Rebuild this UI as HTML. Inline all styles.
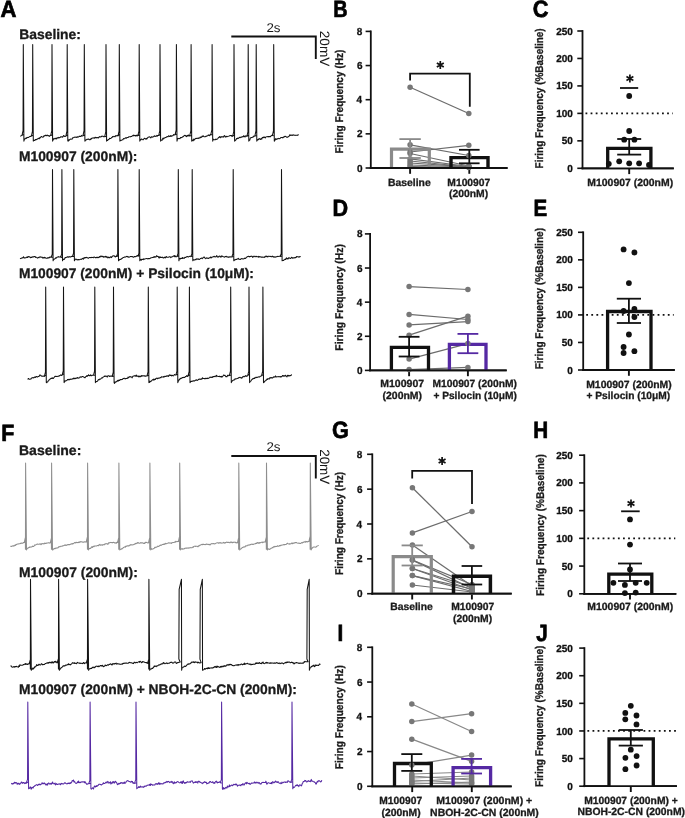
<!DOCTYPE html>
<html><head><meta charset="utf-8"><style>html,body{margin:0;padding:0;background:#fff;}svg{display:block;will-change:transform;}text{font-family:"Liberation Sans",sans-serif;}</style></head><body>
<svg width="685" height="818" viewBox="0 0 685 818" font-family="Liberation Sans, sans-serif" text-rendering="geometricPrecision">
<rect width="685" height="818" fill="#fff"/>
<text x="0.50" y="16.80" font-size="23.5" font-weight="bold" fill="#000" stroke="#000" stroke-width="0.7" textLength="15.95" lengthAdjust="spacingAndGlyphs">A</text>
<text x="333.36" y="16.90" font-size="23.5" font-weight="bold" fill="#000" stroke="#000" stroke-width="0.7" textLength="14.33" lengthAdjust="spacingAndGlyphs">B</text>
<text x="532.68" y="17.00" font-size="23.5" font-weight="bold" fill="#000" stroke="#000" stroke-width="0.7" textLength="15.77" lengthAdjust="spacingAndGlyphs">C</text>
<text x="332.44" y="216.00" font-size="23.5" font-weight="bold" fill="#000" stroke="#000" stroke-width="0.7" textLength="15.62" lengthAdjust="spacingAndGlyphs">D</text>
<text x="533.62" y="216.00" font-size="23.5" font-weight="bold" fill="#000" stroke="#000" stroke-width="0.7" textLength="13.69" lengthAdjust="spacingAndGlyphs">E</text>
<text x="1.26" y="440.50" font-size="23.5" font-weight="bold" fill="#000" stroke="#000" stroke-width="0.7" textLength="13.06" lengthAdjust="spacingAndGlyphs">F</text>
<text x="332.08" y="437.80" font-size="23.5" font-weight="bold" fill="#000" stroke="#000" stroke-width="0.7" textLength="16.82" lengthAdjust="spacingAndGlyphs">G</text>
<text x="533.21" y="437.80" font-size="23.5" font-weight="bold" fill="#000" stroke="#000" stroke-width="0.7" textLength="14.93" lengthAdjust="spacingAndGlyphs">H</text>
<text x="337.41" y="640.70" font-size="23.5" font-weight="bold" fill="#000" stroke="#000" stroke-width="0.7" textLength="5.75" lengthAdjust="spacingAndGlyphs">I</text>
<text x="536.14" y="640.50" font-size="23.5" font-weight="bold" fill="#000" stroke="#000" stroke-width="0.7" textLength="11.47" lengthAdjust="spacingAndGlyphs">J</text>
<text x="19.20" y="38.90" font-size="13.8" font-weight="bold" textLength="61.74" lengthAdjust="spacingAndGlyphs" fill="#1a1a1a" stroke="#1a1a1a" stroke-width="0.3" >Baseline:</text>
<text x="18.90" y="160.90" font-size="13.8" font-weight="bold" textLength="118.58" lengthAdjust="spacingAndGlyphs" fill="#1a1a1a" stroke="#1a1a1a" stroke-width="0.3" >M100907 (200nM):</text>
<text x="18.90" y="278.40" font-size="13.8" font-weight="bold" textLength="235.07" lengthAdjust="spacingAndGlyphs" fill="#1a1a1a" stroke="#1a1a1a" stroke-width="0.3" >M100907 (200nM) + Psilocin (10μM):</text>
<text x="18.99" y="455.10" font-size="13.8" font-weight="bold" textLength="62.36" lengthAdjust="spacingAndGlyphs" fill="#1a1a1a" stroke="#1a1a1a" stroke-width="0.3" >Baseline:</text>
<text x="19.00" y="576.80" font-size="13.8" font-weight="bold" textLength="118.88" lengthAdjust="spacingAndGlyphs" fill="#1a1a1a" stroke="#1a1a1a" stroke-width="0.3" >M100907 (200nM):</text>
<text x="19.00" y="694.40" font-size="13.8" font-weight="bold" textLength="277.96" lengthAdjust="spacingAndGlyphs" fill="#1a1a1a" stroke="#1a1a1a" stroke-width="0.3" >M100907 (200nM) + NBOH-2C-CN (200nM):</text>
<path d="M231.3,36.5 H315.8 V58.9" fill="none" stroke="#111" stroke-width="1.9"/>
<text x="266.43" y="31.70" font-size="12.6" font-weight="normal" textLength="14.15" lengthAdjust="spacingAndGlyphs" fill="#1a1a1a" >2s</text>
<g transform="translate(319.60,31.50) rotate(90)"><text x="-0.68" y="0" font-size="13.6" font-weight="normal" textLength="35.38" lengthAdjust="spacingAndGlyphs" fill="#1a1a1a">20mV</text></g>
<path d="M231.3,456 H315.8 V478.5" fill="none" stroke="#111" stroke-width="1.9"/>
<text x="266.43" y="451.30" font-size="12.6" font-weight="normal" textLength="14.15" lengthAdjust="spacingAndGlyphs" fill="#1a1a1a" >2s</text>
<g transform="translate(319.60,449.80) rotate(90)"><text x="-0.67" y="0" font-size="13.6" font-weight="normal" textLength="35.17" lengthAdjust="spacingAndGlyphs" fill="#1a1a1a">20mV</text></g>
<path d="M20.50,136.48L21.00,135.74L21.50,135.58L23.00,134.76L22.00,135.26L23.05,130.69L23.30,44.50L23.90,141.10L24.40,139.42L24.90,138.82L25.40,138.65L25.90,138.03L26.40,138.40L26.90,137.42L27.40,137.61L27.90,137.39L28.40,137.55L28.90,137.19L29.40,136.69L29.90,136.59L30.40,136.57L30.90,136.11L32.40,135.52L31.40,136.08L32.45,131.34L32.70,44.50L33.30,141.10L33.80,140.15L34.30,140.54L34.80,140.57L35.30,139.47L35.80,139.77L36.30,139.36L36.80,139.66L37.30,139.00L37.80,138.67L38.30,138.70L38.80,138.19L39.30,138.74L39.80,137.60L40.30,137.84L40.80,136.95L41.30,136.60L41.80,136.56L42.30,137.09L42.80,137.19L43.30,137.04L43.80,135.99L44.30,135.70L44.80,136.03L45.30,135.40L45.80,135.12L46.30,135.71L46.80,135.43L47.30,135.06L47.80,135.64L48.30,135.68L48.80,135.54L49.30,136.38L49.80,135.78L51.80,135.30L50.70,135.42L51.75,130.81L52.00,44.50L52.60,141.10L53.10,139.90L53.60,138.94L54.10,138.40L54.60,138.71L55.10,139.00L55.60,138.34L56.10,138.10L56.60,138.91L57.10,137.92L57.60,137.87L58.10,137.43L58.60,138.02L59.10,137.55L59.60,137.74L60.10,137.53L60.60,136.71L61.10,137.01L61.60,136.88L62.10,136.59L62.60,137.24L63.10,136.42L63.60,135.53L64.10,135.88L64.60,136.45L65.10,136.58L67.10,135.34L65.90,135.84L66.95,131.20L67.20,44.50L67.80,141.10L68.30,141.19L68.80,139.79L69.30,140.30L69.80,139.50L70.30,139.22L70.80,138.95L71.30,139.06L71.80,139.22L72.30,138.82L72.80,137.65L73.30,137.82L73.80,137.61L74.30,137.10L74.80,137.34L75.30,137.17L75.80,137.08L76.30,137.22L76.80,137.42L77.30,136.74L77.80,137.15L78.30,136.95L78.80,136.76L79.30,136.15L79.80,136.43L80.30,136.53L80.80,136.47L81.30,135.40L81.80,135.95L82.30,135.96L84.30,135.20L83.00,135.27L84.05,130.64L84.30,44.50L84.90,141.10L85.40,140.45L85.90,140.02L86.40,139.77L86.90,139.26L87.40,139.34L87.90,139.43L88.40,138.97L88.90,139.42L89.40,139.79L89.90,139.29L90.40,139.70L90.90,138.65L91.40,138.99L91.90,138.14L92.40,137.91L92.90,138.12L93.40,137.83L93.90,137.96L94.40,138.29L94.90,137.53L95.40,137.20L95.90,138.00L96.40,137.62L96.90,137.60L97.40,137.61L97.90,137.76L98.40,137.93L98.90,137.27L99.40,136.63L99.90,136.94L100.40,137.04L100.90,136.64L101.40,136.67L101.90,136.07L102.40,136.20L102.90,136.22L103.40,136.54L103.90,136.85L105.90,136.43L104.70,136.58L105.75,131.99L106.00,44.50L106.60,141.10L107.10,140.14L107.60,140.43L108.10,139.77L108.60,139.50L109.10,139.27L109.60,138.32L110.10,138.51L110.60,138.45L111.10,138.22L111.60,137.50L112.10,137.57L112.60,136.53L113.10,136.67L113.60,136.62L114.10,136.26L114.60,136.75L115.10,136.79L115.60,135.63L116.10,136.07L116.60,135.64L117.10,135.80L119.10,134.80L118.00,135.83L119.05,131.17L119.30,44.50L119.90,141.10L120.40,140.17L120.90,140.61L121.40,140.14L121.90,139.95L122.40,139.74L122.90,139.82L123.40,138.57L123.90,138.76L124.40,138.66L124.90,138.51L125.40,137.71L125.90,138.08L126.40,138.18L126.90,137.62L127.40,137.49L127.90,137.54L128.40,137.30L128.90,136.69L129.40,136.71L129.90,136.72L130.40,136.85L130.90,136.47L131.40,136.55L131.90,136.30L132.40,135.83L132.90,135.45L133.40,135.11L133.90,135.98L134.40,135.47L134.90,135.38L135.40,135.41L135.90,136.11L136.40,135.79L136.90,135.08L137.40,135.87L138.90,135.33L137.90,135.61L138.95,131.00L139.20,44.50L139.80,141.10L140.30,139.46L140.80,139.84L141.30,138.92L141.80,139.04L142.30,139.58L142.80,139.70L143.30,139.68L143.80,138.94L144.30,138.18L144.80,138.52L145.30,138.73L145.80,139.11L146.30,138.34L146.80,139.02L147.30,138.22L147.80,137.52L148.30,137.22L148.80,137.07L149.30,137.01L149.80,136.75L150.30,137.29L150.80,137.82L151.30,137.25L151.80,136.67L152.30,137.05L152.80,137.23L153.30,136.78L153.80,136.58L154.30,135.86L154.80,136.01L155.30,136.39L155.80,136.30L156.30,136.30L156.80,135.40L157.30,136.13L157.80,135.55L159.80,135.01L158.70,135.50L159.75,130.90L160.00,44.50L160.60,141.10L161.10,139.97L161.60,140.29L162.10,140.31L162.60,138.70L163.10,137.96L163.60,139.04L164.10,138.20L164.60,137.86L165.10,137.72L165.60,137.42L166.10,137.41L166.60,136.70L167.10,136.66L167.60,136.62L168.10,136.69L168.60,135.78L169.10,135.99L169.60,136.55L170.10,136.36L170.60,135.58L171.10,136.47L171.60,135.70L172.10,135.91L172.60,135.82L173.10,135.48L173.60,134.57L174.10,135.01L174.60,134.88L176.10,134.23L175.10,134.69L176.15,130.06L176.40,44.50L177.00,141.10L177.50,138.78L178.00,138.27L178.50,138.71L179.00,138.55L179.50,138.49L180.00,138.65L180.50,137.49L181.00,137.69L181.50,137.44L182.00,137.49L182.50,136.82L183.00,136.68L183.50,136.43L184.00,135.72L184.50,135.43L185.00,135.25L185.50,135.93L186.00,135.76L186.50,136.62L187.00,135.93L187.50,135.42L188.00,136.05L188.50,134.98L189.00,135.86L191.00,135.65L189.80,135.43L190.85,130.78L191.10,44.50L191.70,141.10L192.20,140.72L192.70,139.97L193.20,140.79L193.70,139.05L194.20,140.09L194.70,139.29L195.20,138.99L195.70,138.46L196.20,138.24L196.70,138.47L197.20,138.47L197.70,138.15L198.20,137.92L198.70,138.45L199.20,137.97L199.70,137.96L200.20,137.06L200.70,137.60L201.20,137.14L201.70,137.15L202.20,136.10L202.70,136.53L203.20,135.74L203.70,136.53L204.20,136.71L204.70,136.83L205.20,136.82L205.70,136.25L206.20,136.46L206.70,136.01L207.20,135.94L207.70,135.66L208.20,134.99L208.70,135.48L209.20,135.08L209.70,135.77L210.20,134.62L211.70,134.82L210.80,134.55L211.85,129.95L212.10,44.50L212.70,141.10L213.20,139.20L213.70,139.31L214.20,139.84L214.70,139.69L215.20,139.83L215.70,139.13L216.20,139.51L216.70,139.18L217.20,139.13L217.70,138.84L218.20,137.90L218.70,137.38L219.20,137.40L219.70,136.49L220.20,136.76L220.70,137.81L221.20,137.06L221.70,136.61L222.20,136.71L222.70,136.77L223.20,137.29L223.70,136.49L224.20,135.71L224.70,135.62L225.20,136.94L225.70,137.04L226.20,136.28L226.70,136.77L227.20,136.39L227.70,136.63L228.20,136.39L228.70,136.12L229.20,135.94L229.70,135.65L230.20,135.54L230.70,135.48L231.20,135.92L231.70,135.50L232.20,136.43L233.70,135.48L232.70,136.12L233.75,131.53L234.00,44.50L234.60,141.10L235.10,140.58L235.60,140.28L236.10,139.64L236.60,138.50L237.10,138.73L237.60,138.08L238.10,138.53L238.60,138.09L239.10,137.46L239.60,137.32L240.10,137.74L240.60,137.15L241.10,137.12L241.60,137.33L242.10,136.62L242.60,136.86L243.10,136.69L243.60,135.82L244.10,136.70L244.60,136.19L245.10,136.94L245.60,135.86L246.10,136.03L248.10,135.60L246.90,136.40L247.95,131.75L248.20,44.50L248.80,141.10L249.30,140.18L249.80,140.22L250.30,138.07L250.80,137.69L251.30,137.45L251.80,137.60L252.30,137.30L252.80,137.11L253.30,137.06L253.80,136.12L254.30,136.29L255.80,135.75L254.90,135.75L255.95,130.96L256.20,44.50L256.80,141.10L257.30,140.20L257.80,139.58L258.30,139.73L258.80,138.82L259.30,139.03L259.80,138.65L260.30,139.54L260.80,139.03L261.30,138.55L261.80,139.11L262.30,137.42L262.80,137.64L263.30,137.15L263.80,137.63L264.30,136.96L264.80,137.52L265.30,137.93L265.80,136.92L266.30,136.81L266.80,136.67L267.30,136.73L267.80,136.53L268.30,136.95L268.80,136.50L269.30,136.73L269.80,136.42L270.30,136.81L270.80,136.15L271.30,135.76L271.80,135.36L273.30,135.70L272.40,135.57L273.45,130.95L273.70,44.50L274.30,141.10L274.80,140.41L275.30,139.60L275.80,138.51L276.30,139.35L276.80,139.37L277.30,138.87L277.80,138.74L278.30,138.38L278.80,138.66L279.30,138.78L279.80,138.44L280.30,138.25L280.80,137.62L281.30,137.48L281.80,137.50L282.30,137.45L282.80,137.94L283.30,136.98L283.80,137.30L284.30,136.73L284.80,136.38L285.30,136.40L285.80,136.31L286.30,136.99L286.80,137.19L287.30,137.13L287.80,137.28L288.30,136.48L288.80,136.28L289.30,135.97L289.80,134.74L290.30,135.06L290.80,135.52L291.30,135.21L291.80,134.98L292.30,135.01L292.80,135.48L293.30,134.90L293.80,134.89L294.30,135.19L294.80,135.33L295.30,135.39L295.80,135.16L296.30,135.26L296.80,135.35L297.30,135.46L297.80,134.97L298.30,135.00L298.80,134.50" fill="none" stroke="#141414" stroke-width="1.05" stroke-linejoin="round"/>
<path d="M20.00,258.42L20.50,258.64L21.00,258.32L21.50,258.26L22.00,257.88L22.50,257.88L23.00,257.85L23.50,256.76L24.00,257.90L24.50,257.89L25.00,257.92L25.50,257.76L26.00,257.76L26.50,257.10L27.00,257.37L27.50,257.50L28.00,256.48L28.50,256.58L29.00,257.02L29.50,256.79L30.00,257.05L30.50,257.80L31.00,257.44L31.50,257.15L32.00,257.43L32.50,256.92L33.00,256.59L33.50,256.98L34.00,256.84L34.50,256.42L35.00,256.55L35.50,257.35L36.00,257.06L36.50,257.41L37.00,257.68L37.50,258.11L38.00,257.82L38.50,257.30L39.00,257.71L39.50,256.90L40.00,256.90L40.50,256.84L41.00,257.32L41.50,257.31L42.00,257.09L42.50,257.90L43.00,257.78L43.50,257.45L44.00,258.21L44.50,257.39L45.00,257.45L45.50,257.87L46.00,258.29L46.50,258.24L47.00,258.15L47.50,257.79L48.00,258.27L48.50,257.66L49.00,257.57L49.50,257.68L50.00,256.81L50.50,257.33L52.50,257.22L51.20,257.29L52.25,254.19L52.50,169.50L53.10,260.80L53.60,259.30L54.10,259.27L54.60,258.94L55.10,258.63L55.60,257.90L56.10,258.21L56.60,257.75L57.10,257.23L57.60,257.05L58.10,257.09L58.60,256.62L59.10,257.09L59.60,257.06L60.10,257.06L61.60,257.36L60.60,257.21L61.65,254.14L61.90,169.50L62.50,260.80L63.00,259.14L63.50,259.22L64.00,259.46L64.50,259.13L65.00,257.76L65.50,257.62L66.00,257.51L66.50,257.31L67.00,257.16L67.50,256.77L68.00,257.14L68.50,257.16L69.00,256.57L69.50,256.82L70.00,257.17L70.50,256.87L71.00,256.73L71.50,256.45L72.00,256.38L73.50,256.36L72.50,256.30L73.55,253.24L73.80,169.50L74.40,260.80L74.90,259.78L75.40,259.26L75.90,259.02L76.40,259.38L76.90,259.78L77.40,259.91L77.90,259.47L78.40,259.94L78.90,259.60L79.40,259.73L79.90,259.51L80.40,259.27L80.90,259.32L81.40,259.41L81.90,258.89L82.40,258.33L82.90,258.70L83.40,259.19L83.90,257.80L84.40,258.18L84.90,257.52L85.40,257.53L85.90,257.89L86.40,257.51L86.90,257.36L87.40,257.74L87.90,258.05L88.40,258.26L88.90,257.77L89.40,257.53L89.90,257.47L90.40,257.53L90.90,257.78L91.40,257.45L91.90,257.37L92.40,257.41L92.90,257.58L93.40,257.73L93.90,256.91L94.40,257.07L94.90,257.43L95.40,257.44L95.90,257.92L96.40,257.35L96.90,257.48L97.40,257.19L97.90,257.80L98.40,257.45L98.90,257.36L99.40,256.49L99.90,257.24L100.40,256.69L100.90,255.91L101.40,256.20L101.90,256.71L102.40,256.35L102.90,256.25L103.40,257.21L103.90,256.73L104.40,256.84L104.90,257.16L105.40,256.37L105.90,256.19L106.40,257.29L106.90,256.70L107.40,257.11L107.90,257.97L108.40,257.31L108.90,256.95L109.40,257.82L109.90,257.73L110.40,257.19L110.90,256.62L111.40,257.58L111.90,256.86L112.40,256.35L112.90,255.72L113.40,255.84L113.90,256.01L114.40,255.89L114.90,256.60L115.40,257.00L115.90,256.36L117.90,255.95L116.60,256.40L117.65,253.39L117.90,169.50L118.50,260.80L119.00,259.73L119.50,259.94L120.00,259.28L120.50,259.38L121.00,259.29L121.50,258.76L122.00,258.34L122.50,258.29L123.00,257.56L123.50,257.54L124.00,257.45L124.50,256.92L125.00,256.92L125.50,257.10L126.00,256.81L126.50,256.42L127.00,256.34L127.50,256.87L128.00,256.59L128.50,257.17L129.00,257.24L129.50,256.89L130.00,256.77L130.50,256.57L131.00,256.44L131.50,256.49L132.00,256.63L132.50,256.61L133.00,256.97L133.50,257.33L134.00,256.89L134.50,256.54L135.00,256.46L135.50,256.68L136.00,256.59L136.50,256.31L137.00,255.61L139.00,255.75L137.90,256.24L138.95,253.21L139.20,169.50L139.80,260.80L140.30,259.83L140.80,259.36L141.30,260.23L141.80,259.36L142.30,259.44L142.80,259.41L143.30,258.88L143.80,259.66L144.30,259.01L144.80,258.93L145.30,258.83L145.80,258.68L146.30,258.60L146.80,258.44L147.30,258.86L147.80,258.71L148.30,258.45L148.80,258.64L149.30,258.64L149.80,258.49L150.30,258.34L150.80,257.70L151.30,257.83L151.80,257.68L152.30,257.52L152.80,257.57L153.30,257.08L153.80,257.35L154.30,256.64L154.80,257.14L155.30,256.86L155.80,257.14L156.30,256.26L156.80,255.67L157.30,256.53L157.80,256.48L158.30,256.41L158.80,257.75L159.30,258.03L159.80,256.65L160.30,257.45L160.80,257.23L161.30,257.54L161.80,257.49L162.30,257.09L162.80,257.42L163.30,258.07L163.80,258.02L164.30,257.34L164.80,257.19L165.30,257.87L165.80,257.01L166.30,256.47L166.80,257.36L167.30,257.22L167.80,257.29L168.30,257.31L168.80,257.13L169.30,256.71L169.80,256.69L170.30,256.98L170.80,257.66L171.30,256.95L171.80,257.00L172.30,256.66L172.80,256.46L173.30,256.03L173.80,256.22L174.30,255.51L174.80,256.83L175.30,255.92L175.80,256.73L176.30,256.85L178.30,256.11L177.00,256.32L178.05,253.30L178.30,169.50L178.90,260.80L179.40,258.75L179.90,258.41L180.40,259.04L180.90,258.36L181.40,258.43L181.90,258.39L182.40,257.56L182.90,258.55L183.40,258.19L183.90,257.85L184.40,258.23L184.90,257.27L185.40,257.41L185.90,257.36L186.40,256.75L186.90,256.77L187.40,256.56L187.90,256.77L188.40,256.95L188.90,256.59L189.40,256.46L189.90,256.17L191.90,256.26L190.90,256.60L191.95,253.55L192.20,169.50L192.80,260.80L193.30,260.03L193.80,259.68L194.30,259.96L194.80,259.95L195.30,259.23L195.80,259.75L196.30,259.27L196.80,258.73L197.30,258.94L197.80,259.20L198.30,258.83L198.80,259.46L199.30,259.50L199.80,259.18L200.30,258.54L200.80,258.51L201.30,258.30L201.80,258.08L202.30,258.60L202.80,258.21L203.30,257.25L203.80,257.15L204.30,257.04L204.80,257.93L205.30,258.13L205.80,258.65L206.30,258.08L206.80,257.75L207.30,258.15L207.80,258.34L208.30,258.55L208.80,258.04L209.30,257.94L209.80,257.63L210.30,257.74L210.80,256.90L211.30,257.89L211.80,257.32L212.30,257.00L212.80,257.08L213.30,256.74L213.80,256.50L214.30,256.32L214.80,256.85L215.30,256.69L215.80,257.03L216.30,256.40L216.80,255.65L217.30,256.76L217.80,257.13L218.30,256.82L218.80,256.99L219.30,256.13L219.80,256.20L220.30,256.26L220.80,257.13L221.30,256.90L221.80,255.76L222.30,256.27L222.80,256.55L223.30,256.75L223.80,256.77L224.30,257.12L224.80,257.01L225.30,256.57L225.80,256.51L226.30,256.31L226.80,256.92L227.30,257.13L227.80,256.81L228.30,256.94L228.80,257.40L229.30,256.88L229.80,256.98L230.30,256.82L230.80,257.00L231.30,257.04L232.80,256.71L231.90,256.72L232.95,253.71L233.20,169.50L233.80,260.80L234.30,260.24L234.80,259.81L235.30,259.64L235.80,259.69L236.30,259.25L236.80,259.43L237.30,259.09L237.80,258.76L238.30,258.29L238.80,259.17L239.30,259.17L239.80,259.37L240.30,259.47L240.80,259.06L241.30,258.84L241.80,258.57L242.30,258.96L242.80,258.75L243.30,258.66L243.80,258.92L244.30,258.61L244.80,258.00L245.30,258.56L245.80,258.14L246.30,257.47L246.80,257.02L247.30,256.78L247.80,256.52L248.30,256.38L248.80,256.20L249.30,256.85L249.80,256.47L250.30,256.39L250.80,256.60L251.30,256.14L251.80,256.28L252.30,256.49L252.80,257.38L253.30,256.70L253.80,256.22L254.30,256.22L254.80,256.69L255.30,256.84L255.80,256.24L256.30,256.32L256.80,256.73L257.30,256.66L257.80,256.82L258.30,256.32L258.80,257.34L259.30,256.93L259.80,256.47L260.30,256.78L260.80,256.98L261.30,257.29L261.80,257.05L262.30,257.22L262.80,257.03L263.30,257.33L263.80,257.20L264.30,256.97L264.80,257.35L265.30,256.27L265.80,256.35L266.30,256.03L266.80,256.71L267.30,256.41L267.80,257.00L268.30,256.30L268.80,256.26L269.30,256.36L269.80,256.47L270.30,256.44L270.80,256.36L271.30,256.82L271.80,256.65L272.30,256.17L272.80,256.77L273.30,256.60L273.80,257.23L274.30,257.13L274.80,256.82L275.30,257.07L275.80,257.17L276.30,256.67L276.80,256.74L277.30,256.38L277.80,256.41L278.30,256.46L278.80,256.33L279.30,256.15L281.30,256.30L280.20,256.53L281.25,253.52L281.50,169.50L282.10,260.80L282.60,260.58L283.10,260.49L283.60,260.41L284.10,259.70L284.60,259.69L285.10,259.23L285.60,259.57L286.10,258.27L286.60,257.76L287.10,258.94L287.60,258.43L288.10,258.89L288.60,257.80L289.10,258.26L289.60,257.83L290.10,258.15L290.60,258.51L291.10,258.05L291.60,257.27L292.10,257.43L292.60,258.26L293.10,258.08L293.60,257.73L294.10,258.03L294.60,257.79L295.10,257.35L295.60,257.81L296.10,257.58L296.60,256.56L297.10,256.64L297.60,256.82L298.10,256.75L298.60,256.94L299.10,257.18L299.60,256.75L300.10,256.45L300.60,256.80" fill="none" stroke="#141414" stroke-width="1.05" stroke-linejoin="round"/>
<path d="M27.50,379.20L28.00,378.86L28.50,378.45L29.00,379.16L29.50,379.26L30.00,379.31L30.50,379.10L31.00,378.98L31.50,378.10L32.00,377.92L32.50,377.82L33.00,377.50L33.50,377.90L34.00,377.73L34.50,377.15L35.00,376.87L35.50,377.39L36.00,376.68L36.50,376.52L37.00,376.94L37.50,376.99L38.00,376.62L38.50,376.45L39.00,376.54L39.50,375.36L40.00,374.87L40.50,375.40L41.00,375.84L41.50,375.82L42.00,376.35L42.50,376.14L43.00,376.01L43.50,376.24L45.50,375.41L44.40,376.38L45.45,372.14L45.70,287.00L46.30,382.60L46.80,382.77L47.30,381.87L47.80,381.66L48.30,380.74L48.80,380.28L49.30,379.67L49.80,379.61L50.30,378.73L50.80,378.65L51.30,378.25L51.80,378.51L52.30,377.80L52.80,378.45L53.30,378.46L53.80,377.62L54.30,377.34L54.80,376.55L55.30,376.26L55.80,376.55L56.30,376.37L56.80,376.41L57.30,376.40L57.80,376.27L58.30,376.06L58.80,376.26L59.30,375.94L59.80,375.45L60.30,375.27L60.80,374.89L61.30,375.45L63.30,374.15L62.20,375.00L63.25,370.84L63.50,287.00L64.10,382.60L64.60,381.71L65.10,380.88L65.60,380.94L66.10,380.67L66.60,380.50L67.10,380.09L67.60,379.44L68.10,379.74L68.60,379.37L69.10,379.91L69.60,379.34L70.10,379.49L70.60,379.03L71.10,379.14L71.60,379.30L72.10,378.83L72.60,379.07L73.10,378.55L73.60,378.13L74.10,378.83L74.60,378.19L75.10,378.25L75.60,378.68L76.10,378.13L76.60,378.27L77.10,377.77L77.60,377.59L78.10,378.25L78.60,378.00L79.10,377.96L79.60,377.59L80.10,376.92L80.60,376.85L81.10,377.25L81.60,377.02L82.10,376.49L82.60,376.51L83.10,376.63L83.60,377.00L84.10,377.15L84.60,377.65L85.10,377.66L85.60,376.68L86.10,376.59L86.60,375.78L87.10,376.51L87.60,375.47L88.10,375.50L88.60,374.76L89.10,375.71L89.60,375.49L90.10,375.68L90.60,374.85L91.10,375.59L91.60,375.81L92.10,375.30L92.60,375.15L94.60,375.25L93.50,375.28L94.55,371.20L94.80,287.00L95.40,382.60L95.90,381.51L96.40,381.53L96.90,381.65L97.40,381.16L97.90,380.63L98.40,379.59L98.90,379.81L99.40,379.82L99.90,378.90L100.40,379.17L100.90,378.82L101.40,378.08L101.90,377.88L102.40,377.93L102.90,377.22L103.40,376.96L103.90,376.57L104.40,375.98L104.90,376.54L105.40,376.14L105.90,376.05L106.40,376.22L106.90,376.74L107.40,377.05L107.90,375.66L108.40,375.78L108.90,375.68L109.40,376.50L109.90,376.27L110.40,376.03L110.90,376.15L111.40,375.92L113.40,376.30L112.20,376.38L113.25,372.23L113.50,287.00L114.10,382.60L114.60,383.36L115.10,381.80L115.60,382.22L116.10,381.93L116.60,381.36L117.10,381.25L117.60,380.41L118.10,381.19L118.60,380.11L119.10,380.37L119.60,380.43L120.10,379.57L120.60,379.75L121.10,379.49L121.60,379.61L122.10,379.53L122.60,379.21L123.10,378.56L123.60,378.42L124.10,378.28L124.60,378.23L125.10,378.93L125.60,378.62L126.10,378.36L126.60,378.40L127.10,378.56L127.60,378.17L128.10,376.92L128.60,377.88L129.10,377.22L129.60,376.64L130.10,376.89L130.60,376.61L131.10,377.00L131.60,377.01L132.10,377.84L132.60,376.71L133.10,376.23L133.60,376.00L134.10,375.98L134.60,375.94L135.10,375.37L135.60,376.00L136.10,376.52L136.60,375.06L137.10,375.75L137.60,376.24L138.10,376.62L138.60,376.02L139.10,376.99L139.60,376.46L140.10,375.96L140.60,376.78L141.10,376.53L141.60,375.56L142.10,376.01L142.60,375.75L143.10,376.08L143.60,375.84L144.10,375.65L144.60,376.01L145.10,376.39L145.60,375.89L146.10,375.99L148.10,375.40L147.00,375.98L148.05,371.90L148.30,287.00L148.90,382.60L149.40,382.53L149.90,381.06L150.40,381.73L150.90,381.31L151.40,380.96L151.90,380.50L152.40,379.78L152.90,379.81L153.40,379.17L153.90,380.23L154.40,379.30L154.90,379.36L155.40,379.46L155.90,378.41L156.40,378.11L156.90,378.43L157.40,378.81L157.90,378.11L158.40,378.05L158.90,378.47L159.40,378.04L159.90,377.76L160.40,377.43L160.90,377.74L161.40,376.80L161.90,377.08L162.40,376.99L162.90,377.02L163.40,376.50L163.90,377.16L164.40,376.75L164.90,376.23L165.40,376.40L165.90,376.43L166.40,375.87L166.90,376.26L167.40,375.99L167.90,375.65L168.40,376.37L168.90,375.88L169.40,374.85L169.90,375.19L170.40,375.42L170.90,375.03L171.40,375.86L171.90,375.33L172.40,375.25L172.90,375.79L173.40,375.85L173.90,375.25L174.40,374.52L174.90,374.92L176.90,374.63L175.90,375.12L176.95,371.03L177.20,287.00L177.80,382.60L178.30,381.14L178.80,380.67L179.30,379.28L179.80,379.41L180.30,378.39L180.80,378.21L181.30,378.41L181.80,377.98L182.30,377.51L182.80,377.77L183.30,377.35L183.80,377.50L184.30,377.41L184.80,377.50L185.30,376.44L185.80,376.40L186.30,376.25L186.80,375.52L187.30,376.54L189.30,375.12L188.10,375.67L189.15,371.43L189.40,287.00L190.00,382.60L190.50,382.00L191.00,381.30L191.50,381.51L192.00,381.22L192.50,381.09L193.00,381.14L193.50,380.79L194.00,380.73L194.50,381.04L195.00,380.65L195.50,380.28L196.00,379.95L196.50,379.87L197.00,380.48L197.50,380.30L198.00,379.84L198.50,379.28L199.00,379.50L199.50,379.04L200.00,378.91L200.50,379.23L201.00,379.41L201.50,378.79L202.00,379.05L202.50,377.78L203.00,378.39L203.50,378.47L204.00,378.45L204.50,378.81L205.00,378.53L205.50,378.73L206.00,378.14L206.50,378.58L207.00,378.65L207.50,378.16L208.00,378.45L208.50,378.17L209.00,377.99L209.50,377.58L210.00,377.02L210.50,377.25L211.00,377.55L211.50,377.46L212.00,376.96L212.50,377.34L213.00,376.59L213.50,376.55L214.00,376.63L214.50,376.50L215.00,376.17L215.50,375.94L216.00,376.72L216.50,375.31L217.00,375.84L217.50,376.15L218.00,376.49L218.50,376.59L219.00,376.46L219.50,376.22L220.00,376.78L220.50,376.54L221.00,376.91L221.50,376.36L222.00,377.13L222.50,376.68L223.00,376.01L223.50,375.02L224.00,375.16L224.50,375.43L225.00,375.29L225.50,376.27L226.00,376.81L226.50,376.51L227.00,376.81L227.50,375.50L228.00,375.14L228.50,375.78L230.50,375.24L229.40,375.26L230.45,371.19L230.70,287.00L231.30,382.60L231.80,381.18L232.30,381.04L232.80,380.46L233.30,380.12L233.80,380.05L234.30,380.01L234.80,379.21L235.30,378.70L235.80,379.14L236.30,378.89L236.80,378.58L237.30,378.51L237.80,378.32L238.30,378.20L238.80,377.52L239.30,377.38L239.80,377.65L240.30,377.80L240.80,377.36L241.30,378.01L241.80,378.18L242.30,377.40L242.80,376.74L243.30,376.32L243.80,376.82L244.30,376.77L244.80,376.43L245.30,375.67L245.80,376.16L246.30,375.85L246.80,376.38L248.80,374.58L247.70,375.52L248.75,371.37L249.00,287.00L249.60,382.60L250.10,381.70L250.60,381.22L251.10,380.79L251.60,379.64L252.10,379.46L252.60,379.00L253.10,378.46L253.60,378.66L254.10,378.15L254.60,378.43L255.10,377.66L255.60,377.71L256.10,377.10L256.60,377.61L257.10,377.43L257.60,377.21L258.10,376.78L258.60,376.93L259.10,376.92L259.60,377.07L260.10,376.24L260.60,376.33L262.60,375.12L261.60,375.64L262.65,371.44L262.90,287.00L263.50,382.60L264.00,381.88L264.50,381.96L265.00,380.96L265.50,380.60L266.00,380.14L266.50,380.12L267.00,379.02L267.50,379.49L268.00,378.59L268.50,378.84L269.00,378.97L269.50,378.94L270.00,377.44L270.50,377.87L271.00,378.01L271.50,377.52L272.00,377.89L272.50,378.04L273.00,377.47L273.50,376.85L274.00,377.28L274.50,376.77L275.00,376.72L275.50,375.91L276.00,377.16L276.50,376.85L277.00,376.67L277.50,376.72L278.00,376.83L278.50,376.77L279.00,376.47L279.50,376.63L280.00,376.85L280.50,376.57L281.00,377.15L281.50,376.49L282.00,376.41L282.50,375.63L283.00,375.53L283.50,375.80L284.00,376.37L284.50,375.88L285.00,375.50L285.50,375.33L286.00,376.15L286.50,376.25L287.00,376.87L287.50,375.28L288.00,375.70L288.50,375.34L289.00,376.14L289.50,375.49L290.00,375.69L290.50,375.62L291.00,375.32L291.50,374.89L292.00,374.96" fill="none" stroke="#141414" stroke-width="1.05" stroke-linejoin="round"/>
<path d="M10.40,546.51L10.90,546.30L11.40,546.37L11.90,546.24L12.40,546.07L12.90,545.80L13.40,545.81L13.90,546.15L14.40,545.28L14.90,545.32L15.40,545.43L15.90,544.47L16.40,544.74L16.90,544.18L17.40,544.12L17.90,543.94L18.40,544.03L18.90,543.81L19.40,543.80L19.90,543.78L20.40,543.61L20.90,543.12L21.40,543.38L21.90,543.02L22.40,543.29L22.90,543.21L23.40,542.59L25.40,542.09L24.30,542.43L25.35,537.61L25.45,549.20L25.60,463.00L26.50,549.90L27.00,548.81L27.50,548.20L28.00,548.16L28.50,547.80L29.00,547.37L29.50,547.42L30.00,546.85L30.50,547.14L31.00,547.04L31.50,546.99L32.00,546.69L32.50,546.07L33.00,546.54L33.50,546.49L34.00,546.09L34.50,545.01L35.00,545.24L35.50,544.88L36.00,544.71L36.50,544.27L37.00,544.34L37.50,544.04L38.00,544.21L38.50,544.20L39.00,544.18L39.50,544.13L40.00,543.76L40.50,544.04L41.00,544.59L41.50,544.03L42.00,543.47L42.50,543.75L43.00,543.82L43.50,543.68L44.00,543.90L44.50,543.15L45.00,543.39L45.50,543.33L46.00,543.51L46.50,543.01L47.00,542.92L47.50,543.07L48.00,542.95L48.50,542.66L49.00,542.73L49.50,543.12L51.50,542.44L50.30,542.87L51.35,538.25L51.45,549.20L51.60,463.00L52.50,549.90L53.00,549.77L53.50,548.97L54.00,548.82L54.50,548.32L55.00,548.81L55.50,548.14L56.00,548.36L56.50,548.07L57.00,547.87L57.50,547.91L58.00,547.84L58.50,547.09L59.00,546.55L59.50,546.87L60.00,546.66L60.50,546.48L61.00,546.13L61.50,546.28L62.00,546.25L62.50,545.86L63.00,545.88L63.50,545.69L64.00,545.55L64.50,545.03L65.00,545.02L65.50,545.39L66.00,544.83L66.50,545.37L67.00,545.08L67.50,544.71L68.00,544.47L68.50,544.80L69.00,544.48L69.50,544.78L70.00,544.41L70.50,544.20L71.00,543.85L71.50,543.83L72.00,544.10L72.50,543.47L73.00,543.87L73.50,543.57L74.00,543.19L74.50,542.58L75.00,542.71L75.50,542.92L76.00,542.37L76.50,542.34L77.00,542.83L77.50,542.51L78.00,542.54L78.50,542.15L79.00,542.71L79.50,541.92L80.00,542.19L80.50,541.63L81.00,541.92L81.50,541.75L82.00,541.84L82.50,542.14L83.00,541.99L83.50,542.14L84.00,541.95L84.50,541.89L85.00,541.85L85.50,542.03L87.50,541.72L86.30,541.65L87.35,537.07L87.45,549.20L87.60,463.00L88.50,549.90L89.00,548.64L89.50,548.68L90.00,548.28L90.50,548.47L91.00,547.88L91.50,547.11L92.00,546.65L92.50,547.53L93.00,546.63L93.50,546.22L94.00,546.73L94.50,546.08L95.00,545.90L95.50,546.09L96.00,545.96L96.50,546.03L97.00,545.82L97.50,545.44L98.00,545.45L98.50,545.65L99.00,544.84L99.50,545.07L100.00,544.41L100.50,545.21L101.00,545.23L101.50,544.77L102.00,544.93L102.50,545.24L103.00,544.58L103.50,544.82L104.00,544.84L104.50,544.68L105.00,543.79L105.50,544.01L106.00,543.75L106.50,543.72L107.00,543.62L107.50,544.28L108.00,544.16L108.50,543.08L109.00,542.55L109.50,542.94L110.00,542.65L110.50,542.40L111.00,542.52L111.50,542.42L112.00,542.75L112.50,542.61L113.00,542.61L113.50,542.32L114.00,542.40L114.50,542.72L115.00,543.13L115.50,543.04L116.00,542.64L116.50,543.10L117.00,542.36L118.50,542.67L117.60,542.37L118.65,537.77L118.75,549.20L118.90,463.00L119.80,549.90L120.30,549.49L120.80,549.32L121.30,549.17L121.80,548.43L122.30,548.80L122.80,548.32L123.30,547.43L123.80,547.47L124.30,547.03L124.80,546.89L125.30,547.21L125.80,546.29L126.30,546.09L126.80,546.36L127.30,545.93L127.80,545.65L128.30,545.85L128.80,546.15L129.30,545.49L129.80,545.10L130.30,545.17L130.80,544.57L131.30,544.77L131.80,545.07L132.30,544.92L132.80,544.65L133.30,544.65L133.80,544.44L134.30,544.25L134.80,544.19L135.30,543.34L135.80,543.83L136.30,543.48L136.80,543.29L137.30,542.55L137.80,543.24L138.30,542.66L138.80,542.91L139.30,543.34L139.80,543.27L140.30,543.00L140.80,542.52L141.30,542.94L141.80,542.88L142.30,542.78L142.80,543.05L143.30,543.04L143.80,543.54L144.30,543.15L144.80,543.52L145.30,542.22L145.80,542.42L146.30,542.43L146.80,542.29L147.30,542.68L147.80,543.00L149.80,542.52L148.60,542.35L149.65,537.76L149.75,549.20L149.90,463.00L150.80,549.90L151.30,548.46L151.80,549.18L152.30,549.13L152.80,548.91L153.30,548.68L153.80,548.42L154.30,548.31L154.80,547.19L155.30,547.22L155.80,547.66L156.30,547.07L156.80,546.95L157.30,546.75L157.80,546.08L158.30,546.42L158.80,546.44L159.30,545.66L159.80,545.62L160.30,545.07L160.80,545.37L161.30,545.35L161.80,544.83L162.30,544.47L162.80,544.56L163.30,544.30L163.80,544.42L164.30,543.93L164.80,544.36L165.30,543.29L165.80,543.69L166.30,543.84L166.80,543.44L167.30,543.33L167.80,543.19L168.30,543.07L168.80,542.72L169.30,542.99L169.80,543.11L170.30,542.84L170.80,543.13L171.30,543.47L171.80,542.65L172.30,542.70L172.80,542.49L173.30,542.42L173.80,542.58L174.30,542.28L174.80,542.01L175.30,542.20L175.80,541.28L176.30,541.61L176.80,541.84L177.30,541.40L177.80,541.50L179.30,541.47L178.40,541.54L179.45,536.94L179.55,549.20L179.70,463.00L180.60,549.90L181.10,548.82L181.60,549.03L182.10,548.55L182.60,549.24L183.10,548.92L183.60,549.01L184.10,548.54L184.60,548.61L185.10,548.02L185.60,548.19L186.10,548.12L186.60,548.01L187.10,548.14L187.60,548.03L188.10,547.74L188.60,548.18L189.10,548.15L189.60,547.85L190.10,547.54L190.60,547.66L191.10,547.71L191.60,547.70L192.10,547.62L192.60,547.10L193.10,547.37L193.60,546.55L194.10,546.37L194.60,546.18L195.10,546.11L195.60,546.50L196.10,546.24L196.60,546.20L197.10,546.26L197.60,546.63L198.10,546.70L198.60,545.89L199.10,545.94L199.60,545.35L200.10,545.31L200.60,545.08L201.10,544.85L201.60,544.46L202.10,544.38L202.60,544.69L203.10,544.11L203.60,544.51L204.10,544.58L204.60,544.52L205.10,544.64L205.60,544.52L206.10,544.03L206.60,544.13L207.10,544.56L207.60,544.29L208.10,544.21L208.60,544.60L209.10,544.77L209.60,544.39L210.10,544.93L210.60,544.21L211.10,543.84L211.60,543.76L212.10,543.57L212.60,543.67L213.10,543.84L213.60,543.46L214.10,543.84L214.60,543.87L215.10,543.73L215.60,543.37L216.10,543.12L216.60,542.93L217.10,542.83L217.60,542.82L218.10,542.97L218.60,543.29L219.10,542.68L219.60,543.04L220.10,542.49L220.60,542.82L221.10,543.25L221.60,542.92L222.10,543.09L222.60,543.10L223.10,542.90L223.60,542.32L224.10,542.82L224.60,543.13L225.10,542.48L225.60,542.83L226.10,542.28L226.60,542.31L227.10,542.03L227.60,542.53L228.10,542.59L228.60,542.28L229.10,542.30L229.60,542.73L230.10,542.83L230.60,542.01L231.10,542.44L231.60,542.00L232.10,542.65L232.60,542.75L233.10,542.07L233.60,542.45L234.10,542.32L234.60,542.18L235.10,542.03L235.60,542.69L236.10,542.48L236.60,542.98L238.60,542.50L237.50,542.68L238.55,538.13L238.65,549.20L238.80,463.00L239.70,549.90L240.20,549.16L240.70,548.91L241.20,548.75L241.70,548.20L242.20,547.59L242.70,547.43L243.20,547.09L243.70,547.12L244.20,546.79L244.70,546.98L245.20,546.78L245.70,545.87L246.20,545.95L246.70,545.72L247.20,545.74L247.70,545.45L248.20,544.87L248.70,545.16L249.20,545.20L249.70,544.80L250.20,544.55L250.70,544.63L251.20,544.27L251.70,544.22L252.20,544.05L252.70,544.50L253.20,544.57L253.70,544.14L254.20,544.10L254.70,543.85L255.20,543.52L255.70,543.76L256.20,543.02L256.70,543.52L257.20,542.89L257.70,542.52L258.20,543.19L258.70,543.11L259.20,542.43L259.70,543.22L260.20,542.60L260.70,542.62L261.20,542.40L261.70,542.14L262.20,541.98L262.70,542.80L263.20,542.10L263.70,542.15L264.20,542.07L266.20,542.07L265.20,541.95L266.25,537.34L266.35,549.20L266.50,463.00L267.40,549.90L267.90,549.02L268.40,548.79L268.90,549.20L269.40,549.53L269.90,548.94L270.40,549.07L270.90,548.28L271.40,548.22L271.90,547.96L272.40,547.49L272.90,547.76L273.40,546.72L273.90,546.81L274.40,547.04L274.90,546.31L275.40,546.63L275.90,546.51L276.40,546.48L276.90,546.39L277.40,545.68L277.90,546.18L278.40,546.16L278.90,546.11L279.40,545.51L279.90,545.92L280.40,545.33L280.90,545.61L281.40,545.21L281.90,545.08L282.40,545.08L282.90,545.05L283.40,544.84L283.90,544.44L284.40,544.84L284.90,544.44L285.40,544.60L285.90,544.43L286.40,544.17L286.90,543.57L287.40,543.21L287.90,543.71L288.40,543.87L288.90,544.11L289.40,544.26L289.90,543.53L290.40,543.97L290.90,543.74L291.40,543.48L291.90,542.94L292.40,543.73L292.90,543.03L293.40,543.07L293.90,543.41L294.40,542.94L294.90,542.63L295.40,542.59L295.90,542.75L296.40,542.48L296.90,542.87L297.40,543.11L297.90,543.22L298.40,543.32L298.90,543.02L299.40,543.26L299.90,543.58L300.40,543.56L300.90,543.27L301.40,542.75L301.90,542.63L302.40,543.04L302.90,542.39L303.40,542.42L303.90,541.92L304.40,541.77L304.90,541.80L305.40,542.30L305.90,541.36L306.40,541.84L306.90,541.52L307.40,541.90L307.90,541.70L308.40,541.52L309.90,540.99L309.00,541.24L310.05,536.68L310.15,549.20L310.30,463.00L311.20,549.90L311.70,548.57L312.20,548.24L312.70,547.53L313.20,547.24L313.70,547.10L314.20,546.96L314.70,547.08L315.20,547.02L315.70,547.15L316.20,546.94L316.70,546.34L317.20,546.13L317.70,545.85L318.20,545.42L318.70,545.55" fill="none" stroke="#8e8e8e" stroke-width="1.05" stroke-linejoin="round"/>
<path d="M10.40,666.02L10.90,665.93L11.40,665.91L11.90,666.98L12.40,667.11L12.90,667.19L13.40,667.01L13.90,666.46L14.40,666.80L14.90,667.31L15.40,666.50L15.90,666.46L16.40,666.26L16.90,666.81L17.40,666.83L17.90,666.90L18.40,667.23L18.90,665.72L19.40,666.55L19.90,664.68L20.40,665.31L20.90,665.33L21.40,665.20L21.90,665.23L22.40,665.15L22.90,665.02L23.40,664.45L23.90,664.76L24.40,664.16L24.90,664.16L25.40,663.43L25.90,664.41L26.40,664.16L26.90,663.77L27.40,664.56L27.90,664.28L28.40,663.86L30.40,663.50L29.20,663.60L30.25,659.80L30.35,669.00L30.50,579.30L31.30,670.20L31.80,668.85L32.30,669.20L32.80,668.04L33.30,669.00L33.80,668.68L34.30,667.12L34.80,667.43L35.30,666.28L35.80,666.24L36.30,666.10L36.80,664.51L37.30,665.44L37.80,665.53L38.30,665.31L38.80,664.28L39.30,664.32L39.80,665.02L40.30,665.03L40.80,664.71L41.30,663.84L41.80,663.68L42.30,664.42L42.80,664.88L43.30,664.47L43.80,664.56L44.30,664.59L44.80,663.97L45.30,663.60L45.80,663.46L46.30,663.33L46.80,663.04L47.30,662.86L47.80,663.19L48.30,662.56L48.80,663.18L49.30,662.40L49.80,662.16L50.30,662.69L50.80,662.69L51.30,662.01L51.80,663.01L52.30,661.84L52.80,662.62L53.30,663.04L53.80,662.21L54.30,661.44L54.80,662.11L55.30,661.29L55.80,662.12L56.30,661.76L56.80,662.75L58.30,662.37L57.30,662.44L58.35,658.91L58.45,669.00L58.60,579.30L59.40,670.20L59.90,669.51L60.40,668.78L60.90,667.88L61.40,667.75L61.90,667.28L62.40,666.92L62.90,666.21L63.40,665.71L63.90,666.13L64.40,665.69L64.90,665.96L65.40,665.26L65.90,665.05L66.40,665.11L66.90,665.04L67.40,664.86L67.90,664.47L68.40,663.79L68.90,664.72L69.40,664.32L69.90,664.47L70.40,664.85L70.90,664.32L71.40,663.95L71.90,663.61L72.40,662.64L72.90,662.90L73.40,662.95L73.90,663.34L74.40,662.69L74.90,663.44L75.40,663.16L75.90,663.28L76.40,663.75L76.90,663.17L77.40,662.34L77.90,662.82L78.40,662.91L78.90,662.91L79.40,663.36L79.90,663.06L80.40,663.39L80.90,663.21L81.40,663.29L81.90,663.46L82.40,663.60L82.90,663.04L83.40,662.44L83.90,663.28L84.40,663.71L84.90,662.75L85.40,663.04L87.40,662.96L86.30,663.01L87.35,659.47L87.45,669.00L87.60,579.30L88.60,670.20L89.10,669.22L89.60,668.66L90.10,668.67L90.60,668.42L91.10,668.21L91.60,668.40L92.10,667.75L92.60,667.21L93.10,667.80L93.60,667.21L94.10,667.03L94.60,667.73L95.10,667.34L95.60,666.55L96.10,666.33L96.60,666.26L97.10,666.04L97.60,666.57L98.10,666.75L98.60,666.01L99.10,666.62L99.60,666.08L100.10,665.77L100.60,665.44L101.10,665.98L101.60,665.53L102.10,666.19L102.60,665.24L103.10,666.09L103.60,666.69L104.10,666.38L104.60,666.11L105.10,665.02L105.60,665.26L106.10,665.76L106.60,665.59L107.10,665.08L107.60,664.77L108.10,665.16L108.60,665.00L109.10,664.20L109.60,664.39L110.10,664.34L110.60,663.74L111.10,664.12L111.60,664.76L112.10,665.07L112.60,663.94L113.10,663.45L113.60,663.99L114.10,664.13L114.60,663.49L115.10,663.86L115.60,663.39L116.10,663.07L116.60,664.11L117.10,664.03L117.60,663.58L118.10,663.66L118.60,664.08L119.10,664.10L119.60,664.11L120.10,664.20L120.60,664.33L121.10,664.36L121.60,664.14L122.10,663.72L122.60,664.09L123.10,663.33L123.60,663.44L124.10,663.12L124.60,663.23L125.10,663.37L125.60,663.03L126.10,662.89L126.60,663.27L127.10,663.29L127.60,663.20L128.10,663.33L128.60,662.80L129.10,662.30L129.60,662.49L130.10,662.78L130.60,662.69L131.10,662.55L131.60,662.93L132.10,663.05L132.60,663.20L133.10,663.61L133.60,663.42L134.10,662.30L134.60,662.18L135.10,662.78L135.60,662.85L136.10,662.27L136.60,662.58L137.10,662.68L137.60,662.43L138.10,662.12L138.60,661.88L139.10,661.45L139.60,662.35L140.10,661.30L140.60,661.62L141.10,662.02L141.60,662.78L142.10,662.56L142.60,661.44L143.10,661.57L143.60,661.93L144.10,662.04L144.60,662.34L145.10,662.51L145.60,662.41L146.10,662.68L146.60,662.45L147.10,663.30L148.60,663.45L147.60,663.14L148.65,659.63L148.75,669.00L148.90,579.30L149.70,670.20L150.20,669.35L150.70,669.09L151.20,669.07L151.70,668.56L152.20,668.27L152.70,668.40L153.20,667.58L153.70,667.22L154.20,665.93L154.70,666.56L155.20,665.96L155.70,666.30L156.20,666.59L156.70,665.90L157.20,666.03L157.70,665.81L158.20,665.29L158.70,665.07L159.20,664.70L159.70,664.97L160.20,664.60L160.70,664.30L161.20,663.73L161.70,664.10L162.20,663.86L162.70,663.84L163.20,662.61L163.70,662.74L164.20,663.72L164.70,663.20L165.20,663.35L165.70,663.68L166.20,663.30L166.70,662.82L167.20,663.28L167.70,663.61L168.20,663.19L168.70,663.31L169.20,663.24L169.70,663.09L170.20,662.27L170.70,662.45L171.20,662.41L171.70,662.10L172.20,662.73L172.70,663.25L173.20,663.10L173.70,663.01L174.20,662.20L174.70,661.96L175.20,662.02L175.70,662.01L176.20,663.34L176.70,663.42L177.20,662.68L177.70,662.57L178.20,662.61L180.20,662.02L178.85,659.05L179.15,589.30L181.45,579.30L181.65,670.20L182.15,667.42L182.65,667.32L183.15,667.27L183.65,666.81L184.15,666.70L184.65,666.11L185.15,666.26L185.65,666.51L186.15,665.89L186.65,665.46L187.15,664.60L187.65,664.15L188.15,664.36L188.65,663.78L189.15,664.12L189.65,663.79L190.15,663.80L190.65,663.10L191.15,662.90L191.65,662.14L192.15,662.23L192.65,662.08L193.15,662.38L193.65,661.73L194.15,662.28L194.65,662.63L195.15,661.86L195.65,661.90L196.15,662.33L196.65,662.33L197.15,662.02L197.65,662.89L198.15,662.22L198.65,662.27L199.15,663.08L201.15,662.63L199.95,659.07L200.25,589.30L202.35,579.30L202.55,670.20L203.05,669.99L203.55,669.84L204.05,669.62L204.55,668.47L205.05,669.03L205.55,669.10L206.05,668.41L206.55,668.33L207.05,668.55L207.55,668.72L208.05,667.53L208.55,668.53L209.05,667.91L209.55,668.54L210.05,667.99L210.55,668.01L211.05,668.03L211.55,667.83L212.05,668.19L212.55,667.82L213.05,667.90L213.55,667.22L214.05,667.57L214.55,666.73L215.05,666.34L215.55,667.22L216.05,666.73L216.55,667.55L217.05,666.01L217.55,667.06L218.05,666.46L218.55,666.95L219.05,666.92L219.55,667.27L220.05,667.48L220.55,666.39L221.05,666.49L221.55,667.05L222.05,666.07L222.55,666.68L223.05,666.72L223.55,666.50L224.05,665.52L224.55,666.32L225.05,665.73L225.55,666.32L226.05,665.97L226.55,664.92L227.05,665.05L227.55,664.69L228.05,665.30L228.55,664.95L229.05,664.25L229.55,664.96L230.05,664.43L230.55,664.25L231.05,664.89L231.55,664.60L232.05,665.28L232.55,665.61L233.05,665.42L233.55,665.69L234.05,665.68L234.55,665.51L235.05,665.36L235.55,665.09L236.05,664.78L236.55,665.21L237.05,664.89L237.55,664.66L238.05,665.58L238.55,664.55L239.05,664.75L239.55,664.86L240.05,664.78L240.55,664.65L241.05,664.13L241.55,664.10L242.05,664.22L242.55,664.82L243.05,664.46L243.55,663.84L244.05,664.39L244.55,663.09L245.05,664.49L245.55,663.78L246.05,663.69L246.55,663.67L247.05,663.44L247.55,663.28L248.05,663.94L248.55,664.07L249.05,664.01L249.55,664.35L250.05,663.87L250.55,664.18L251.05,664.91L251.55,664.18L252.05,664.52L252.55,664.58L253.05,664.03L253.55,664.15L254.05,664.17L254.55,664.31L255.05,663.72L255.55,663.91L256.05,662.61L256.55,663.49L257.05,663.52L257.55,663.02L258.05,662.85L258.55,663.41L259.05,663.27L259.55,662.43L260.05,663.31L260.55,663.56L261.05,663.48L261.55,663.63L262.05,662.39L262.55,663.04L263.05,662.02L263.55,663.32L264.05,663.65L264.55,663.49L265.05,663.20L265.55,662.74L266.05,662.96L266.55,662.41L267.05,663.07L267.55,662.56L268.05,663.05L268.55,662.95L269.05,662.99L269.55,663.06L270.05,663.54L270.55,662.78L271.05,662.84L271.55,663.14L272.05,663.14L272.55,662.91L273.05,663.14L273.55,663.33L274.05,662.80L274.55,663.23L275.05,663.01L275.55,663.24L276.05,663.04L276.55,662.60L277.05,662.70L277.55,662.93L278.05,663.53L278.55,663.41L279.05,662.98L279.55,662.91L280.05,663.69L280.55,663.34L281.05,663.12L281.55,663.27L282.05,662.83L282.55,663.18L283.05,663.55L283.55,663.94L284.05,663.29L284.55,663.12L285.05,662.81L285.55,662.39L286.05,663.06L286.55,662.36L287.05,661.82L287.55,662.55L288.05,662.09L288.55,662.25L289.05,662.09L289.55,661.97L290.05,662.66L290.55,662.81L291.05,662.57L291.55,662.12L292.05,662.57L292.55,662.38L293.05,663.22L293.55,662.78L294.05,663.98L294.55,663.52L295.05,662.86L295.55,662.94L296.05,662.90L296.55,662.43L297.05,662.70L297.55,662.86L298.05,662.95L298.55,663.08L299.05,663.58L299.55,663.32L300.05,662.82L300.55,663.34L301.05,663.33L301.55,663.33L302.05,663.03L302.55,662.92L303.05,663.19L303.55,662.98L304.05,661.85L304.55,662.10L305.05,661.41L305.55,661.65L306.05,661.65L308.05,661.69L306.90,659.01L307.20,589.30L309.20,579.30L309.40,670.20L309.90,668.09L310.40,667.85L310.90,667.24L311.40,666.31L311.90,666.67L312.40,666.34L312.90,665.44L313.40,665.95L313.90,664.99L314.40,666.68L314.90,666.00L315.40,666.01L315.90,664.71L316.40,665.54L316.90,665.45L317.40,665.23L317.90,665.29L318.40,665.56L318.90,665.04L319.40,663.99L319.90,664.05L320.40,664.52" fill="none" stroke="#141414" stroke-width="1.05" stroke-linejoin="round"/>
<path d="M11.20,783.14L11.70,783.59L12.20,784.17L12.70,783.56L13.20,783.47L13.70,783.68L14.20,782.50L14.70,782.25L15.20,783.22L15.70,782.58L16.20,782.51L16.70,782.98L17.20,784.25L17.70,783.37L18.20,784.01L18.70,783.17L19.20,783.64L19.70,784.37L20.20,783.74L20.70,783.03L21.20,782.26L21.70,782.00L22.20,783.40L22.70,782.66L23.20,782.52L23.70,782.55L24.20,783.62L24.70,783.16L25.20,782.55L25.70,783.45L27.70,782.25L26.50,782.45L27.55,779.33L27.80,702.00L28.60,788.80L29.10,788.15L29.60,788.36L30.10,786.92L30.60,787.07L31.10,789.19L31.60,788.15L32.10,787.23L32.60,787.62L33.10,788.06L33.60,786.56L34.10,786.59L34.60,785.83L35.10,785.66L35.60,785.45L36.10,784.98L36.60,784.64L37.10,784.77L37.60,785.50L38.10,785.10L38.60,784.25L39.10,784.50L39.60,784.14L40.10,784.95L40.60,784.26L41.10,784.25L41.60,783.80L42.10,782.63L42.60,783.81L43.10,783.50L43.60,783.68L44.10,782.77L44.60,783.77L45.10,783.65L45.60,784.42L46.10,785.09L46.60,784.61L47.10,783.75L47.60,785.10L48.10,783.40L48.60,783.02L49.10,783.27L49.60,783.79L50.10,784.31L50.60,783.40L51.10,783.21L51.60,784.13L52.10,783.01L52.60,781.94L53.10,783.62L53.60,783.80L54.10,783.65L54.60,783.97L55.10,783.05L55.60,784.99L56.10,784.07L56.60,783.66L57.10,784.43L57.60,784.53L58.10,784.23L58.60,784.07L59.10,783.80L59.60,784.13L60.10,783.97L60.60,784.79L61.10,783.33L61.60,783.81L62.10,783.54L62.60,783.91L63.10,784.06L63.60,783.99L64.10,783.36L64.60,782.80L65.10,782.69L65.60,783.29L66.10,783.51L66.60,783.69L67.10,783.96L67.60,783.28L68.10,783.57L68.60,783.01L69.10,783.57L69.60,783.66L70.10,782.53L70.60,783.40L71.10,782.90L71.60,782.31L72.10,780.81L72.60,780.50L73.10,781.04L73.60,780.04L74.10,782.03L74.60,781.63L75.10,782.47L75.60,783.18L76.10,783.17L76.60,783.38L77.10,782.84L77.60,781.74L78.10,782.46L78.60,781.05L79.10,782.76L79.60,782.47L80.10,782.39L80.60,782.59L81.10,781.87L81.60,781.93L82.10,782.04L82.60,781.82L83.10,782.11L83.60,781.90L84.10,781.55L84.60,782.80L85.10,781.72L85.60,783.09L86.10,783.09L86.60,784.24L87.10,784.32L87.60,784.02L88.10,783.72L90.10,783.58L88.80,783.54L89.85,780.53L90.10,702.00L90.90,788.80L91.40,789.09L91.90,788.51L92.40,787.77L92.90,788.21L93.40,789.04L93.90,787.54L94.40,786.12L94.90,785.90L95.40,786.96L95.90,786.65L96.40,785.65L96.90,786.36L97.40,786.04L97.90,785.15L98.40,785.15L98.90,784.35L99.40,784.33L99.90,784.21L100.40,784.58L100.90,784.72L101.40,785.04L101.90,784.69L102.40,784.02L102.90,784.03L103.40,782.81L103.90,783.41L104.40,783.48L104.90,783.54L105.40,782.73L105.90,782.15L106.40,782.06L106.90,782.96L107.40,781.86L107.90,781.41L108.40,782.48L108.90,783.26L109.40,782.60L109.90,782.64L110.40,781.72L110.90,784.03L111.40,783.00L111.90,783.15L112.40,781.83L112.90,783.10L113.40,781.65L113.90,781.81L114.40,783.12L114.90,782.22L115.40,781.21L115.90,782.12L116.40,782.35L116.90,783.33L117.40,784.65L117.90,783.93L118.40,784.18L118.90,783.28L119.40,783.86L119.90,783.23L120.40,783.44L120.90,782.50L121.40,782.93L121.90,782.68L122.40,782.69L122.90,783.59L123.40,782.73L123.90,783.26L124.40,782.06L124.90,783.40L125.40,783.06L125.90,782.33L126.40,781.34L126.90,780.95L127.40,780.72L127.90,780.43L128.40,781.19L128.90,781.36L129.40,781.47L129.90,781.70L130.40,782.18L130.90,782.07L131.40,781.22L131.90,781.90L132.40,781.45L132.90,783.16L133.40,782.63L133.90,783.59L135.90,783.04L134.70,782.65L135.75,779.63L136.00,702.00L136.80,788.80L137.30,788.15L137.80,787.85L138.30,787.62L138.80,786.52L139.30,787.46L139.80,787.22L140.30,786.09L140.80,787.03L141.30,786.93L141.80,786.72L142.30,786.97L142.80,786.88L143.30,787.37L143.80,786.95L144.30,786.12L144.80,786.69L145.30,785.97L145.80,785.97L146.30,786.21L146.80,785.73L147.30,785.20L147.80,785.30L148.30,784.94L148.80,785.00L149.30,785.31L149.80,784.35L150.30,785.53L150.80,783.74L151.30,784.50L151.80,784.47L152.30,785.27L152.80,784.77L153.30,784.93L153.80,784.90L154.30,785.01L154.80,785.05L155.30,783.85L155.80,784.05L156.30,783.66L156.80,784.17L157.30,783.69L157.80,784.37L158.30,783.20L158.80,782.77L159.30,784.41L159.80,783.12L160.30,783.51L160.80,784.11L161.30,783.77L161.80,783.64L162.30,783.73L162.80,784.00L163.30,783.55L163.80,782.85L164.30,783.07L164.80,782.54L165.30,782.68L165.80,782.11L166.30,782.29L166.80,781.39L167.30,782.23L167.80,781.69L168.30,781.38L168.80,781.58L169.30,782.29L169.80,782.61L170.30,781.98L170.80,781.88L171.30,782.35L171.80,781.33L172.30,781.65L172.80,782.87L173.30,783.68L173.80,783.10L174.30,781.81L174.80,783.33L175.30,782.65L175.80,782.60L176.30,782.79L176.80,782.02L177.30,781.68L177.80,781.57L178.30,781.91L178.80,782.42L179.30,782.73L179.80,782.85L180.30,782.61L180.80,781.71L181.30,783.08L181.80,781.77L182.30,783.51L182.80,781.38L183.30,780.92L183.80,782.67L184.30,782.48L184.80,783.42L185.30,782.62L185.80,782.96L186.30,782.26L186.80,782.73L187.30,781.85L187.80,781.68L188.30,782.10L188.80,782.16L189.30,781.96L189.80,781.71L190.30,782.37L190.80,781.19L191.30,781.01L191.80,781.10L192.30,780.90L192.80,782.05L193.30,783.09L193.80,782.71L194.30,782.33L194.80,782.12L195.30,782.55L195.80,781.53L196.30,782.54L196.80,781.88L197.30,781.67L197.80,783.12L198.30,781.38L198.80,781.13L199.30,781.51L199.80,782.32L200.30,782.08L200.80,782.52L201.30,782.74L201.80,783.26L202.30,783.03L202.80,783.66L203.30,782.47L203.80,782.37L204.30,782.26L204.80,781.56L205.30,782.52L205.80,782.55L206.30,782.21L206.80,783.89L207.30,783.58L207.80,783.41L208.30,782.81L208.80,783.13L209.30,782.57L209.80,781.46L210.30,781.43L210.80,782.07L211.30,782.38L211.80,782.59L212.30,782.20L212.80,781.70L213.30,783.19L213.80,783.04L214.30,782.66L214.80,783.35L215.30,781.82L215.80,781.44L216.30,781.09L216.80,782.31L217.30,782.87L217.80,782.08L218.30,782.56L218.80,782.44L219.30,781.69L221.30,783.04L220.30,782.65L221.35,779.64L221.60,702.00L222.40,788.80L222.90,789.34L223.40,787.60L223.90,788.67L224.40,788.28L224.90,788.93L225.40,787.62L225.90,787.40L226.40,787.98L226.90,788.09L227.40,785.91L227.90,787.08L228.40,786.67L228.90,786.86L229.40,784.91L229.90,786.51L230.40,785.77L230.90,785.77L231.40,785.15L231.90,785.02L232.40,785.63L232.90,785.52L233.40,784.59L233.90,784.29L234.40,784.71L234.90,784.49L235.40,784.03L235.90,784.86L236.40,784.13L236.90,784.58L237.40,786.18L237.90,785.55L238.40,785.16L238.90,785.28L239.40,785.27L239.90,784.81L240.40,785.53L240.90,785.77L241.40,784.44L241.90,784.46L242.40,784.88L242.90,783.49L243.40,784.59L243.90,785.07L244.40,784.80L244.90,783.31L245.40,783.28L245.90,782.67L246.40,783.86L246.90,782.34L247.40,782.98L247.90,783.26L248.40,783.64L248.90,783.58L249.40,783.21L249.90,784.42L250.40,784.29L250.90,783.66L251.40,783.06L251.90,782.99L252.40,783.17L252.90,783.08L253.40,783.06L253.90,783.00L254.40,781.89L254.90,782.87L255.40,782.42L255.90,783.17L256.40,782.84L256.90,782.17L257.40,782.49L257.90,783.06L258.40,783.26L258.90,782.41L259.40,782.68L259.90,783.92L260.40,783.60L260.90,784.19L261.40,783.48L261.90,782.46L262.40,782.39L262.90,782.59L263.40,782.35L263.90,782.55L264.40,782.56L264.90,782.49L265.40,782.45L265.90,781.16L266.40,783.08L266.90,784.21L267.40,783.66L267.90,782.82L268.40,782.74L268.90,782.79L269.40,783.19L269.90,783.34L270.40,783.39L270.90,783.47L271.40,782.50L271.90,783.75L272.40,781.78L272.90,781.84L273.40,782.27L273.90,782.89L274.40,782.08L274.90,782.41L275.40,781.08L275.90,781.20L276.40,782.00L276.90,782.37L277.40,782.55L277.90,781.57L278.40,782.00L278.90,782.84L279.40,783.27L279.90,783.15L280.40,782.82L280.90,783.68L281.40,783.56L281.90,782.05L282.40,782.86L282.90,782.78L283.40,782.49L283.90,782.05L284.40,782.11L284.90,781.95L285.40,782.51L285.90,782.09L286.40,781.95L286.90,782.23L287.40,782.36L287.90,780.67L288.40,781.11L288.90,781.26L289.40,782.05L289.90,782.05L291.90,781.92L290.70,782.44L291.75,779.43L292.00,702.00L292.80,788.80L293.30,786.82L293.80,787.50L294.30,787.36L294.80,786.69L295.30,785.93L295.80,785.48L296.30,785.06L296.80,785.66L297.30,784.74L297.80,785.63L298.30,785.62L298.80,786.59L299.30,785.22L299.80,784.77L300.30,785.14L300.80,785.17L301.30,785.90L301.80,785.19L302.30,783.43L302.80,782.86L303.30,781.50L303.80,781.40L304.30,781.38L304.80,780.40L305.30,781.04L305.80,780.66L306.30,781.72L306.80,782.05L307.30,781.59L307.80,781.24L308.30,780.56L308.80,781.27L309.30,781.43L309.80,781.05L310.30,781.57L310.80,780.87L311.30,779.38L311.80,781.12L312.30,780.99L312.80,781.14L313.30,781.65L313.80,781.89L314.30,781.71L314.80,782.55L315.30,782.55L315.80,783.98L316.30,784.03L316.80,782.43L317.30,781.42L317.80,782.03L318.30,780.82L318.80,781.07L319.30,780.77L319.80,781.02L320.30,781.62L320.80,781.96L321.30,781.44L321.80,780.18" fill="none" stroke="#5529a3" stroke-width="1.05" stroke-linejoin="round"/>
<line x1="370.80" y1="30.50" x2="370.80" y2="168.90" stroke="#111" stroke-width="1.8" />
<line x1="369.90" y1="168.00" x2="507.50" y2="168.00" stroke="#111" stroke-width="1.8" />
<line x1="365.60" y1="168.00" x2="370.80" y2="168.00" stroke="#111" stroke-width="1.6" />
<text x="356.95" y="171.57" font-size="10.2" font-weight="bold" textLength="5.56" lengthAdjust="spacingAndGlyphs" fill="#111" stroke="#111" stroke-width="0.3" >0</text>
<line x1="365.60" y1="133.85" x2="370.80" y2="133.85" stroke="#111" stroke-width="1.6" />
<text x="356.95" y="137.42" font-size="10.2" font-weight="bold" textLength="5.56" lengthAdjust="spacingAndGlyphs" fill="#111" stroke="#111" stroke-width="0.3" >2</text>
<line x1="365.60" y1="99.70" x2="370.80" y2="99.70" stroke="#111" stroke-width="1.6" />
<text x="356.60" y="103.27" font-size="10.2" font-weight="bold" textLength="5.56" lengthAdjust="spacingAndGlyphs" fill="#111" stroke="#111" stroke-width="0.3" >4</text>
<line x1="365.60" y1="65.55" x2="370.80" y2="65.55" stroke="#111" stroke-width="1.6" />
<text x="356.90" y="69.12" font-size="10.2" font-weight="bold" textLength="5.56" lengthAdjust="spacingAndGlyphs" fill="#111" stroke="#111" stroke-width="0.3" >6</text>
<line x1="365.60" y1="31.40" x2="370.80" y2="31.40" stroke="#111" stroke-width="1.6" />
<text x="356.85" y="34.97" font-size="10.2" font-weight="bold" textLength="5.56" lengthAdjust="spacingAndGlyphs" fill="#111" stroke="#111" stroke-width="0.3" >8</text>
<line x1="410.10" y1="168.00" x2="410.10" y2="173.80" stroke="#111" stroke-width="1.9" />
<line x1="469.30" y1="168.00" x2="469.30" y2="173.80" stroke="#111" stroke-width="1.9" />
<line x1="410.10" y1="87.20" x2="468.80" y2="113.50" stroke="#6c6c6c" stroke-width="1.25" />
<line x1="410.10" y1="144.80" x2="468.80" y2="155.50" stroke="#6c6c6c" stroke-width="1.25" />
<line x1="410.10" y1="152.00" x2="468.80" y2="145.30" stroke="#6c6c6c" stroke-width="1.25" />
<line x1="410.10" y1="153.50" x2="468.80" y2="166.00" stroke="#6c6c6c" stroke-width="1.25" />
<line x1="410.10" y1="158.80" x2="468.80" y2="166.50" stroke="#6c6c6c" stroke-width="1.25" />
<line x1="410.10" y1="161.00" x2="468.80" y2="167.00" stroke="#6c6c6c" stroke-width="1.25" />
<line x1="410.10" y1="163.00" x2="468.80" y2="166.80" stroke="#6c6c6c" stroke-width="1.25" />
<line x1="410.10" y1="165.00" x2="468.80" y2="167.00" stroke="#6c6c6c" stroke-width="1.25" />
<line x1="410.10" y1="166.50" x2="468.80" y2="167.50" stroke="#6c6c6c" stroke-width="1.25" />
<path d="M391.50,168.00 V149.10 H429.30 V168.00" fill="none" stroke="#8a8a8a" stroke-width="3.2" stroke-linejoin="miter"/>
<path d="M451.00,168.00 V157.60 H488.00 V168.00" fill="none" stroke="#111" stroke-width="3.4" stroke-linejoin="miter"/>
<circle cx="410.10" cy="87.20" r="2.75" fill="#777777"/>
<circle cx="468.80" cy="113.50" r="2.75" fill="#777777"/>
<circle cx="410.10" cy="144.80" r="2.75" fill="#777777"/>
<circle cx="468.80" cy="155.50" r="2.75" fill="#777777"/>
<circle cx="410.10" cy="152.00" r="2.75" fill="#777777"/>
<circle cx="468.80" cy="145.30" r="2.75" fill="#777777"/>
<circle cx="410.10" cy="153.50" r="2.75" fill="#777777"/>
<circle cx="468.80" cy="166.00" r="2.75" fill="#777777"/>
<circle cx="410.10" cy="158.80" r="2.75" fill="#777777"/>
<circle cx="468.80" cy="166.50" r="2.75" fill="#777777"/>
<circle cx="410.10" cy="161.00" r="2.75" fill="#777777"/>
<circle cx="468.80" cy="167.00" r="2.75" fill="#777777"/>
<circle cx="410.10" cy="163.00" r="2.75" fill="#777777"/>
<circle cx="468.80" cy="166.80" r="2.75" fill="#777777"/>
<circle cx="410.10" cy="165.00" r="2.75" fill="#777777"/>
<circle cx="468.80" cy="167.00" r="2.75" fill="#777777"/>
<circle cx="410.10" cy="166.50" r="2.75" fill="#777777"/>
<circle cx="468.80" cy="167.50" r="2.75" fill="#777777"/>
<line x1="410.10" y1="139.10" x2="410.10" y2="158.00" stroke="#8a8a8a" stroke-width="1.8" />
<line x1="399.40" y1="139.10" x2="420.80" y2="139.10" stroke="#8a8a8a" stroke-width="1.8" />
<line x1="399.40" y1="158.00" x2="420.80" y2="158.00" stroke="#8a8a8a" stroke-width="1.8" />
<line x1="469.30" y1="149.80" x2="469.30" y2="163.30" stroke="#111" stroke-width="1.8" />
<line x1="459.00" y1="149.80" x2="479.60" y2="149.80" stroke="#111" stroke-width="1.8" />
<line x1="459.00" y1="163.30" x2="479.60" y2="163.30" stroke="#111" stroke-width="1.8" />
<path d="M410.1,80.4 V73.7 H469.8 V106.8" fill="none" stroke="#111" stroke-width="1.8"/>
<path d="M440.30,69.10L440.30,61.10M436.84,67.10L443.76,63.10M443.76,67.10L436.84,63.10" stroke="#111" stroke-width="1.7" fill="none"/>
<text x="388.03" y="185.70" font-size="10.4" font-weight="bold" textLength="42.67" lengthAdjust="spacingAndGlyphs" fill="#1a1a1a" stroke="#1a1a1a" stroke-width="0.3" >Baseline</text>
<text x="447.33" y="185.70" font-size="10.4" font-weight="bold" textLength="42.98" lengthAdjust="spacingAndGlyphs" fill="#1a1a1a" stroke="#1a1a1a" stroke-width="0.3" >M100907</text>
<text x="449.08" y="197.20" font-size="10.4" font-weight="bold" textLength="39.12" lengthAdjust="spacingAndGlyphs" fill="#1a1a1a" stroke="#1a1a1a" stroke-width="0.3" >(200nM)</text>
<g transform="translate(343.20,152.80) rotate(-90)"><text x="-0.66" y="0" font-size="11.2" font-weight="bold" textLength="103.95" lengthAdjust="spacingAndGlyphs" fill="#1a1a1a" stroke="#1a1a1a" stroke-width="0.3">Firing Frequency (Hz)</text></g>
<line x1="582.50" y1="30.10" x2="582.50" y2="169.20" stroke="#111" stroke-width="1.8" />
<line x1="581.60" y1="168.30" x2="673.80" y2="168.30" stroke="#111" stroke-width="1.8" />
<line x1="577.30" y1="168.30" x2="582.50" y2="168.30" stroke="#111" stroke-width="1.6" />
<text x="567.25" y="171.87" font-size="10.2" font-weight="bold" textLength="5.56" lengthAdjust="spacingAndGlyphs" fill="#111" stroke="#111" stroke-width="0.3" >0</text>
<line x1="577.30" y1="140.84" x2="582.50" y2="140.84" stroke="#111" stroke-width="1.6" />
<text x="561.70" y="144.41" font-size="10.2" font-weight="bold" textLength="11.12" lengthAdjust="spacingAndGlyphs" fill="#111" stroke="#111" stroke-width="0.3" >50</text>
<line x1="577.30" y1="113.38" x2="582.50" y2="113.38" stroke="#111" stroke-width="1.6" />
<text x="556.15" y="116.95" font-size="10.2" font-weight="bold" textLength="16.69" lengthAdjust="spacingAndGlyphs" fill="#111" stroke="#111" stroke-width="0.3" >100</text>
<line x1="577.30" y1="85.92" x2="582.50" y2="85.92" stroke="#111" stroke-width="1.6" />
<text x="556.15" y="89.49" font-size="10.2" font-weight="bold" textLength="16.69" lengthAdjust="spacingAndGlyphs" fill="#111" stroke="#111" stroke-width="0.3" >150</text>
<line x1="577.30" y1="58.46" x2="582.50" y2="58.46" stroke="#111" stroke-width="1.6" />
<text x="556.15" y="62.03" font-size="10.2" font-weight="bold" textLength="16.69" lengthAdjust="spacingAndGlyphs" fill="#111" stroke="#111" stroke-width="0.3" >200</text>
<line x1="577.30" y1="31.00" x2="582.50" y2="31.00" stroke="#111" stroke-width="1.6" />
<text x="556.15" y="34.57" font-size="10.2" font-weight="bold" textLength="16.69" lengthAdjust="spacingAndGlyphs" fill="#111" stroke="#111" stroke-width="0.3" >250</text>
<path d="M607.70,168.30 V148.40 H650.90 V168.30" fill="#fff" stroke="#111" stroke-width="3.3" stroke-linejoin="miter"/>
<line x1="585.50" y1="113.38" x2="672.80" y2="113.38" stroke="#111" stroke-width="1.8" stroke-dasharray="1.8 3.3"/>
<line x1="629.20" y1="168.30" x2="629.20" y2="174.10" stroke="#111" stroke-width="1.9" />
<circle cx="629.20" cy="96.00" r="2.9" fill="#111"/>
<circle cx="629.20" cy="131.00" r="2.9" fill="#111"/>
<circle cx="624.20" cy="139.70" r="2.9" fill="#111"/>
<circle cx="634.40" cy="139.70" r="2.9" fill="#111"/>
<circle cx="608.80" cy="163.80" r="2.9" fill="#111"/>
<circle cx="619.20" cy="161.30" r="2.9" fill="#111"/>
<circle cx="629.20" cy="163.30" r="2.9" fill="#111"/>
<circle cx="639.10" cy="163.30" r="2.9" fill="#111"/>
<circle cx="649.00" cy="165.00" r="2.9" fill="#111"/>
<line x1="629.20" y1="139.00" x2="629.20" y2="154.60" stroke="#111" stroke-width="1.8" />
<line x1="617.20" y1="139.00" x2="641.20" y2="139.00" stroke="#111" stroke-width="1.8" />
<line x1="617.20" y1="154.60" x2="641.20" y2="154.60" stroke="#111" stroke-width="1.8" />
<line x1="620.00" y1="88.00" x2="638.20" y2="88.00" stroke="#111" stroke-width="1.8" />
<path d="M629.90,82.40L629.90,74.40M626.44,80.40L633.36,76.40M633.36,80.40L626.44,76.40" stroke="#111" stroke-width="1.7" fill="none"/>
<text x="587.32" y="185.60" font-size="10.4" font-weight="bold" textLength="85.86" lengthAdjust="spacingAndGlyphs" fill="#1a1a1a" stroke="#1a1a1a" stroke-width="0.3" >M100907 (200nM)</text>
<g transform="translate(543.40,167.80) rotate(-90)"><text x="-0.65" y="0" font-size="11.2" font-weight="bold" textLength="140.13" lengthAdjust="spacingAndGlyphs" fill="#1a1a1a" stroke="#1a1a1a" stroke-width="0.3">Firing Frequency (%Baseline)</text></g>
<line x1="370.10" y1="233.00" x2="370.10" y2="371.30" stroke="#111" stroke-width="1.8" />
<line x1="369.20" y1="370.40" x2="506.70" y2="370.40" stroke="#111" stroke-width="1.8" />
<line x1="364.90" y1="370.40" x2="370.10" y2="370.40" stroke="#111" stroke-width="1.6" />
<text x="357.05" y="373.97" font-size="10.2" font-weight="bold" textLength="5.56" lengthAdjust="spacingAndGlyphs" fill="#111" stroke="#111" stroke-width="0.3" >0</text>
<line x1="364.90" y1="336.27" x2="370.10" y2="336.27" stroke="#111" stroke-width="1.6" />
<text x="357.05" y="339.84" font-size="10.2" font-weight="bold" textLength="5.56" lengthAdjust="spacingAndGlyphs" fill="#111" stroke="#111" stroke-width="0.3" >2</text>
<line x1="364.90" y1="302.15" x2="370.10" y2="302.15" stroke="#111" stroke-width="1.6" />
<text x="356.70" y="305.72" font-size="10.2" font-weight="bold" textLength="5.56" lengthAdjust="spacingAndGlyphs" fill="#111" stroke="#111" stroke-width="0.3" >4</text>
<line x1="364.90" y1="268.02" x2="370.10" y2="268.02" stroke="#111" stroke-width="1.6" />
<text x="357.00" y="271.59" font-size="10.2" font-weight="bold" textLength="5.56" lengthAdjust="spacingAndGlyphs" fill="#111" stroke="#111" stroke-width="0.3" >6</text>
<line x1="364.90" y1="233.90" x2="370.10" y2="233.90" stroke="#111" stroke-width="1.6" />
<text x="356.95" y="237.47" font-size="10.2" font-weight="bold" textLength="5.56" lengthAdjust="spacingAndGlyphs" fill="#111" stroke="#111" stroke-width="0.3" >8</text>
<line x1="409.10" y1="370.40" x2="409.10" y2="376.20" stroke="#111" stroke-width="1.9" />
<line x1="467.90" y1="370.40" x2="467.90" y2="376.20" stroke="#111" stroke-width="1.9" />
<line x1="409.10" y1="286.60" x2="467.90" y2="289.50" stroke="#6c6c6c" stroke-width="1.25" />
<line x1="409.10" y1="314.40" x2="467.90" y2="319.50" stroke="#6c6c6c" stroke-width="1.25" />
<line x1="409.10" y1="324.90" x2="467.90" y2="321.60" stroke="#6c6c6c" stroke-width="1.25" />
<line x1="409.10" y1="335.20" x2="467.90" y2="316.20" stroke="#6c6c6c" stroke-width="1.25" />
<line x1="409.10" y1="359.10" x2="467.90" y2="343.60" stroke="#6c6c6c" stroke-width="1.25" />
<line x1="409.10" y1="369.60" x2="467.90" y2="367.40" stroke="#6c6c6c" stroke-width="1.25" />
<path d="M391.40,370.40 V347.30 H428.50 V370.40" fill="none" stroke="#111" stroke-width="3.3" stroke-linejoin="miter"/>
<path d="M449.40,370.40 V344.30 H486.00 V370.40" fill="none" stroke="#5529a3" stroke-width="3.3" stroke-linejoin="miter"/>
<circle cx="409.10" cy="286.60" r="2.75" fill="#777777"/>
<circle cx="467.90" cy="289.50" r="2.75" fill="#777777"/>
<circle cx="409.10" cy="314.40" r="2.75" fill="#777777"/>
<circle cx="467.90" cy="319.50" r="2.75" fill="#777777"/>
<circle cx="409.10" cy="324.90" r="2.75" fill="#777777"/>
<circle cx="467.90" cy="321.60" r="2.75" fill="#777777"/>
<circle cx="409.10" cy="335.20" r="2.75" fill="#777777"/>
<circle cx="467.90" cy="316.20" r="2.75" fill="#777777"/>
<circle cx="409.10" cy="359.10" r="2.75" fill="#777777"/>
<circle cx="467.90" cy="343.60" r="2.75" fill="#777777"/>
<circle cx="409.10" cy="369.60" r="2.75" fill="#777777"/>
<circle cx="467.90" cy="367.40" r="2.75" fill="#777777"/>
<line x1="409.10" y1="336.80" x2="409.10" y2="356.50" stroke="#111" stroke-width="1.8" />
<line x1="398.70" y1="336.80" x2="419.50" y2="336.80" stroke="#111" stroke-width="1.8" />
<line x1="398.70" y1="356.50" x2="419.50" y2="356.50" stroke="#111" stroke-width="1.8" />
<line x1="467.90" y1="333.90" x2="467.90" y2="353.20" stroke="#5529a3" stroke-width="1.8" />
<line x1="457.50" y1="333.90" x2="478.30" y2="333.90" stroke="#5529a3" stroke-width="1.8" />
<line x1="457.50" y1="353.20" x2="478.30" y2="353.20" stroke="#5529a3" stroke-width="1.8" />
<text x="380.22" y="387.20" font-size="10.4" font-weight="bold" textLength="43.91" lengthAdjust="spacingAndGlyphs" fill="#1a1a1a" stroke="#1a1a1a" stroke-width="0.3" >M100907</text>
<text x="382.48" y="398.60" font-size="10.4" font-weight="bold" textLength="39.63" lengthAdjust="spacingAndGlyphs" fill="#1a1a1a" stroke="#1a1a1a" stroke-width="0.3" >(200nM)</text>
<text x="432.53" y="387.20" font-size="10.4" font-weight="bold" textLength="84.34" lengthAdjust="spacingAndGlyphs" fill="#1a1a1a" stroke="#1a1a1a" stroke-width="0.3" >M100907 (200nM)</text>
<text x="433.39" y="398.60" font-size="10.4" font-weight="bold" textLength="83.49" lengthAdjust="spacingAndGlyphs" fill="#1a1a1a" stroke="#1a1a1a" stroke-width="0.3" >+ Psilocin (10μM)</text>
<g transform="translate(343.10,350.00) rotate(-90)"><text x="-0.67" y="0" font-size="11.2" font-weight="bold" textLength="106.58" lengthAdjust="spacingAndGlyphs" fill="#1a1a1a" stroke="#1a1a1a" stroke-width="0.3">Firing Frequency (Hz)</text></g>
<line x1="583.20" y1="231.40" x2="583.20" y2="370.90" stroke="#111" stroke-width="1.8" />
<line x1="582.30" y1="370.00" x2="674.70" y2="370.00" stroke="#111" stroke-width="1.8" />
<line x1="578.00" y1="370.00" x2="583.20" y2="370.00" stroke="#111" stroke-width="1.6" />
<text x="567.25" y="373.57" font-size="10.2" font-weight="bold" textLength="5.56" lengthAdjust="spacingAndGlyphs" fill="#111" stroke="#111" stroke-width="0.3" >0</text>
<line x1="578.00" y1="342.46" x2="583.20" y2="342.46" stroke="#111" stroke-width="1.6" />
<text x="561.70" y="346.03" font-size="10.2" font-weight="bold" textLength="11.12" lengthAdjust="spacingAndGlyphs" fill="#111" stroke="#111" stroke-width="0.3" >50</text>
<line x1="578.00" y1="314.92" x2="583.20" y2="314.92" stroke="#111" stroke-width="1.6" />
<text x="556.15" y="318.49" font-size="10.2" font-weight="bold" textLength="16.69" lengthAdjust="spacingAndGlyphs" fill="#111" stroke="#111" stroke-width="0.3" >100</text>
<line x1="578.00" y1="287.38" x2="583.20" y2="287.38" stroke="#111" stroke-width="1.6" />
<text x="556.15" y="290.95" font-size="10.2" font-weight="bold" textLength="16.69" lengthAdjust="spacingAndGlyphs" fill="#111" stroke="#111" stroke-width="0.3" >150</text>
<line x1="578.00" y1="259.84" x2="583.20" y2="259.84" stroke="#111" stroke-width="1.6" />
<text x="556.15" y="263.41" font-size="10.2" font-weight="bold" textLength="16.69" lengthAdjust="spacingAndGlyphs" fill="#111" stroke="#111" stroke-width="0.3" >200</text>
<line x1="578.00" y1="232.30" x2="583.20" y2="232.30" stroke="#111" stroke-width="1.6" />
<text x="556.15" y="235.87" font-size="10.2" font-weight="bold" textLength="16.69" lengthAdjust="spacingAndGlyphs" fill="#111" stroke="#111" stroke-width="0.3" >250</text>
<path d="M607.60,370.00 V311.50 H651.00 V370.00" fill="#fff" stroke="#111" stroke-width="3.3" stroke-linejoin="miter"/>
<line x1="586.20" y1="314.92" x2="673.70" y2="314.92" stroke="#111" stroke-width="1.8" stroke-dasharray="1.8 3.3"/>
<line x1="628.90" y1="370.00" x2="628.90" y2="375.80" stroke="#111" stroke-width="1.9" />
<circle cx="623.60" cy="249.40" r="2.9" fill="#111"/>
<circle cx="634.40" cy="252.50" r="2.9" fill="#111"/>
<circle cx="628.90" cy="283.10" r="2.9" fill="#111"/>
<circle cx="623.60" cy="311.00" r="2.9" fill="#111"/>
<circle cx="634.40" cy="309.00" r="2.9" fill="#111"/>
<circle cx="634.40" cy="317.00" r="2.9" fill="#111"/>
<circle cx="628.90" cy="334.50" r="2.9" fill="#111"/>
<circle cx="623.60" cy="347.00" r="2.9" fill="#111"/>
<circle cx="623.60" cy="353.00" r="2.9" fill="#111"/>
<circle cx="634.40" cy="351.20" r="2.9" fill="#111"/>
<line x1="628.90" y1="298.70" x2="628.90" y2="323.00" stroke="#111" stroke-width="1.8" />
<line x1="616.80" y1="298.70" x2="641.00" y2="298.70" stroke="#111" stroke-width="1.8" />
<line x1="616.80" y1="323.00" x2="641.00" y2="323.00" stroke="#111" stroke-width="1.8" />
<text x="586.22" y="387.50" font-size="10.4" font-weight="bold" textLength="85.46" lengthAdjust="spacingAndGlyphs" fill="#1a1a1a" stroke="#1a1a1a" stroke-width="0.3" >M100907 (200nM)</text>
<text x="586.49" y="399.10" font-size="10.4" font-weight="bold" textLength="83.69" lengthAdjust="spacingAndGlyphs" fill="#1a1a1a" stroke="#1a1a1a" stroke-width="0.3" >+ Psilocin (10μM)</text>
<g transform="translate(543.40,368.70) rotate(-90)"><text x="-0.65" y="0" font-size="11.2" font-weight="bold" textLength="141.34" lengthAdjust="spacingAndGlyphs" fill="#1a1a1a" stroke="#1a1a1a" stroke-width="0.3">Firing Frequency (%Baseline)</text></g>
<line x1="372.30" y1="453.40" x2="372.30" y2="594.60" stroke="#111" stroke-width="1.8" />
<line x1="371.40" y1="593.70" x2="511.70" y2="593.70" stroke="#111" stroke-width="1.8" />
<line x1="367.10" y1="593.70" x2="372.30" y2="593.70" stroke="#111" stroke-width="1.6" />
<text x="356.95" y="597.27" font-size="10.2" font-weight="bold" textLength="5.56" lengthAdjust="spacingAndGlyphs" fill="#111" stroke="#111" stroke-width="0.3" >0</text>
<line x1="367.10" y1="558.85" x2="372.30" y2="558.85" stroke="#111" stroke-width="1.6" />
<text x="356.95" y="562.42" font-size="10.2" font-weight="bold" textLength="5.56" lengthAdjust="spacingAndGlyphs" fill="#111" stroke="#111" stroke-width="0.3" >2</text>
<line x1="367.10" y1="524.00" x2="372.30" y2="524.00" stroke="#111" stroke-width="1.6" />
<text x="356.60" y="527.57" font-size="10.2" font-weight="bold" textLength="5.56" lengthAdjust="spacingAndGlyphs" fill="#111" stroke="#111" stroke-width="0.3" >4</text>
<line x1="367.10" y1="489.15" x2="372.30" y2="489.15" stroke="#111" stroke-width="1.6" />
<text x="356.90" y="492.72" font-size="10.2" font-weight="bold" textLength="5.56" lengthAdjust="spacingAndGlyphs" fill="#111" stroke="#111" stroke-width="0.3" >6</text>
<line x1="367.10" y1="454.30" x2="372.30" y2="454.30" stroke="#111" stroke-width="1.6" />
<text x="356.85" y="457.87" font-size="10.2" font-weight="bold" textLength="5.56" lengthAdjust="spacingAndGlyphs" fill="#111" stroke="#111" stroke-width="0.3" >8</text>
<line x1="412.20" y1="593.70" x2="412.20" y2="599.50" stroke="#111" stroke-width="1.9" />
<line x1="471.90" y1="593.70" x2="471.90" y2="599.50" stroke="#111" stroke-width="1.9" />
<line x1="412.40" y1="487.70" x2="472.00" y2="546.70" stroke="#6c6c6c" stroke-width="1.25" />
<line x1="412.40" y1="532.90" x2="472.00" y2="511.50" stroke="#6c6c6c" stroke-width="1.25" />
<line x1="412.40" y1="545.00" x2="472.00" y2="586.00" stroke="#6c6c6c" stroke-width="1.25" />
<line x1="412.40" y1="560.10" x2="472.00" y2="588.50" stroke="#6c6c6c" stroke-width="1.25" />
<line x1="412.40" y1="560.10" x2="472.00" y2="584.50" stroke="#6c6c6c" stroke-width="1.25" />
<line x1="412.40" y1="568.50" x2="472.00" y2="590.00" stroke="#6c6c6c" stroke-width="1.25" />
<line x1="412.40" y1="568.50" x2="472.00" y2="587.00" stroke="#6c6c6c" stroke-width="1.25" />
<line x1="412.40" y1="575.60" x2="472.00" y2="591.50" stroke="#6c6c6c" stroke-width="1.25" />
<line x1="412.40" y1="575.60" x2="472.00" y2="589.00" stroke="#6c6c6c" stroke-width="1.25" />
<line x1="412.40" y1="585.00" x2="472.00" y2="592.00" stroke="#6c6c6c" stroke-width="1.25" />
<path d="M393.20,593.70 V556.60 H431.30 V593.70" fill="none" stroke="#8a8a8a" stroke-width="3.2" stroke-linejoin="miter"/>
<path d="M453.50,593.70 V576.30 H490.40 V593.70" fill="none" stroke="#111" stroke-width="3.5" stroke-linejoin="miter"/>
<circle cx="412.40" cy="487.70" r="2.75" fill="#777777"/>
<circle cx="472.00" cy="546.70" r="2.75" fill="#777777"/>
<circle cx="412.40" cy="532.90" r="2.75" fill="#777777"/>
<circle cx="472.00" cy="511.50" r="2.75" fill="#777777"/>
<circle cx="412.40" cy="545.00" r="2.75" fill="#777777"/>
<circle cx="472.00" cy="586.00" r="2.75" fill="#777777"/>
<circle cx="412.40" cy="560.10" r="2.75" fill="#777777"/>
<circle cx="472.00" cy="588.50" r="2.75" fill="#777777"/>
<circle cx="412.40" cy="560.10" r="2.75" fill="#777777"/>
<circle cx="472.00" cy="584.50" r="2.75" fill="#777777"/>
<circle cx="412.40" cy="568.50" r="2.75" fill="#777777"/>
<circle cx="472.00" cy="590.00" r="2.75" fill="#777777"/>
<circle cx="412.40" cy="568.50" r="2.75" fill="#777777"/>
<circle cx="472.00" cy="587.00" r="2.75" fill="#777777"/>
<circle cx="412.40" cy="575.60" r="2.75" fill="#777777"/>
<circle cx="472.00" cy="591.50" r="2.75" fill="#777777"/>
<circle cx="412.40" cy="575.60" r="2.75" fill="#777777"/>
<circle cx="472.00" cy="589.00" r="2.75" fill="#777777"/>
<circle cx="412.40" cy="585.00" r="2.75" fill="#777777"/>
<circle cx="472.00" cy="592.00" r="2.75" fill="#777777"/>
<line x1="412.20" y1="545.40" x2="412.20" y2="565.50" stroke="#8a8a8a" stroke-width="1.8" />
<line x1="401.60" y1="545.40" x2="422.80" y2="545.40" stroke="#8a8a8a" stroke-width="1.8" />
<line x1="401.60" y1="565.50" x2="422.80" y2="565.50" stroke="#8a8a8a" stroke-width="1.8" />
<line x1="471.90" y1="566.00" x2="471.90" y2="584.50" stroke="#111" stroke-width="1.8" />
<line x1="461.60" y1="566.00" x2="482.20" y2="566.00" stroke="#111" stroke-width="1.8" />
<line x1="461.60" y1="584.50" x2="482.20" y2="584.50" stroke="#111" stroke-width="1.8" />
<path d="M412.2,478.5 V470.9 H472 V504" fill="none" stroke="#111" stroke-width="1.8"/>
<path d="M442.10,465.00L442.10,457.00M438.64,463.00L445.56,459.00M445.56,463.00L438.64,459.00" stroke="#111" stroke-width="1.7" fill="none"/>
<text x="390.23" y="610.10" font-size="10.4" font-weight="bold" textLength="42.47" lengthAdjust="spacingAndGlyphs" fill="#1a1a1a" stroke="#1a1a1a" stroke-width="0.3" >Baseline</text>
<text x="451.13" y="610.10" font-size="10.4" font-weight="bold" textLength="43.09" lengthAdjust="spacingAndGlyphs" fill="#1a1a1a" stroke="#1a1a1a" stroke-width="0.3" >M100907</text>
<text x="452.98" y="621.70" font-size="10.4" font-weight="bold" textLength="39.12" lengthAdjust="spacingAndGlyphs" fill="#1a1a1a" stroke="#1a1a1a" stroke-width="0.3" >(200nM)</text>
<g transform="translate(343.20,574.30) rotate(-90)"><text x="-0.65" y="0" font-size="11.2" font-weight="bold" textLength="102.94" lengthAdjust="spacingAndGlyphs" fill="#1a1a1a" stroke="#1a1a1a" stroke-width="0.3">Firing Frequency (Hz)</text></g>
<line x1="584.30" y1="454.30" x2="584.30" y2="594.70" stroke="#111" stroke-width="1.8" />
<line x1="583.40" y1="593.80" x2="676.30" y2="593.80" stroke="#111" stroke-width="1.8" />
<line x1="579.10" y1="593.80" x2="584.30" y2="593.80" stroke="#111" stroke-width="1.6" />
<text x="567.25" y="597.37" font-size="10.2" font-weight="bold" textLength="5.56" lengthAdjust="spacingAndGlyphs" fill="#111" stroke="#111" stroke-width="0.3" >0</text>
<line x1="579.10" y1="566.08" x2="584.30" y2="566.08" stroke="#111" stroke-width="1.6" />
<text x="561.70" y="569.65" font-size="10.2" font-weight="bold" textLength="11.12" lengthAdjust="spacingAndGlyphs" fill="#111" stroke="#111" stroke-width="0.3" >50</text>
<line x1="579.10" y1="538.36" x2="584.30" y2="538.36" stroke="#111" stroke-width="1.6" />
<text x="556.15" y="541.93" font-size="10.2" font-weight="bold" textLength="16.69" lengthAdjust="spacingAndGlyphs" fill="#111" stroke="#111" stroke-width="0.3" >100</text>
<line x1="579.10" y1="510.64" x2="584.30" y2="510.64" stroke="#111" stroke-width="1.6" />
<text x="556.15" y="514.21" font-size="10.2" font-weight="bold" textLength="16.69" lengthAdjust="spacingAndGlyphs" fill="#111" stroke="#111" stroke-width="0.3" >150</text>
<line x1="579.10" y1="482.92" x2="584.30" y2="482.92" stroke="#111" stroke-width="1.6" />
<text x="556.15" y="486.49" font-size="10.2" font-weight="bold" textLength="16.69" lengthAdjust="spacingAndGlyphs" fill="#111" stroke="#111" stroke-width="0.3" >200</text>
<line x1="579.10" y1="455.20" x2="584.30" y2="455.20" stroke="#111" stroke-width="1.6" />
<text x="556.15" y="458.77" font-size="10.2" font-weight="bold" textLength="16.69" lengthAdjust="spacingAndGlyphs" fill="#111" stroke="#111" stroke-width="0.3" >250</text>
<path d="M608.80,593.80 V574.20 H651.80 V593.80" fill="#fff" stroke="#111" stroke-width="3.3" stroke-linejoin="miter"/>
<line x1="587.30" y1="538.36" x2="675.30" y2="538.36" stroke="#111" stroke-width="1.8" stroke-dasharray="1.8 3.3"/>
<line x1="630.00" y1="593.80" x2="630.00" y2="599.60" stroke="#111" stroke-width="1.9" />
<circle cx="630.00" cy="519.40" r="2.9" fill="#111"/>
<circle cx="630.00" cy="544.60" r="2.9" fill="#111"/>
<circle cx="630.00" cy="569.50" r="2.9" fill="#111"/>
<circle cx="613.40" cy="582.80" r="2.9" fill="#111"/>
<circle cx="646.70" cy="582.80" r="2.9" fill="#111"/>
<circle cx="624.90" cy="584.90" r="2.9" fill="#111"/>
<circle cx="635.70" cy="582.80" r="2.9" fill="#111"/>
<circle cx="624.90" cy="593.10" r="2.9" fill="#111"/>
<circle cx="635.70" cy="592.60" r="2.9" fill="#111"/>
<line x1="630.00" y1="563.50" x2="630.00" y2="581.00" stroke="#111" stroke-width="1.8" />
<line x1="618.00" y1="563.50" x2="642.00" y2="563.50" stroke="#111" stroke-width="1.8" />
<line x1="618.00" y1="581.00" x2="642.00" y2="581.00" stroke="#111" stroke-width="1.8" />
<line x1="621.10" y1="511.30" x2="639.70" y2="511.30" stroke="#111" stroke-width="1.8" />
<path d="M631.00,507.50L631.00,499.50M627.54,505.50L634.46,501.50M634.46,505.50L627.54,501.50" stroke="#111" stroke-width="1.7" fill="none"/>
<text x="587.32" y="610.20" font-size="10.4" font-weight="bold" textLength="85.86" lengthAdjust="spacingAndGlyphs" fill="#1a1a1a" stroke="#1a1a1a" stroke-width="0.3" >M100907 (200nM)</text>
<g transform="translate(543.70,595.30) rotate(-90)"><text x="-0.66" y="0" font-size="11.2" font-weight="bold" textLength="141.75" lengthAdjust="spacingAndGlyphs" fill="#1a1a1a" stroke="#1a1a1a" stroke-width="0.3">Firing Frequency (%Baseline)</text></g>
<line x1="372.30" y1="646.40" x2="372.30" y2="787.20" stroke="#111" stroke-width="1.8" />
<line x1="371.40" y1="786.30" x2="511.70" y2="786.30" stroke="#111" stroke-width="1.8" />
<line x1="367.10" y1="786.30" x2="372.30" y2="786.30" stroke="#111" stroke-width="1.6" />
<text x="356.95" y="789.87" font-size="10.2" font-weight="bold" textLength="5.56" lengthAdjust="spacingAndGlyphs" fill="#111" stroke="#111" stroke-width="0.3" >0</text>
<line x1="367.10" y1="751.55" x2="372.30" y2="751.55" stroke="#111" stroke-width="1.6" />
<text x="356.95" y="755.12" font-size="10.2" font-weight="bold" textLength="5.56" lengthAdjust="spacingAndGlyphs" fill="#111" stroke="#111" stroke-width="0.3" >2</text>
<line x1="367.10" y1="716.80" x2="372.30" y2="716.80" stroke="#111" stroke-width="1.6" />
<text x="356.60" y="720.37" font-size="10.2" font-weight="bold" textLength="5.56" lengthAdjust="spacingAndGlyphs" fill="#111" stroke="#111" stroke-width="0.3" >4</text>
<line x1="367.10" y1="682.05" x2="372.30" y2="682.05" stroke="#111" stroke-width="1.6" />
<text x="356.90" y="685.62" font-size="10.2" font-weight="bold" textLength="5.56" lengthAdjust="spacingAndGlyphs" fill="#111" stroke="#111" stroke-width="0.3" >6</text>
<line x1="367.10" y1="647.30" x2="372.30" y2="647.30" stroke="#111" stroke-width="1.6" />
<text x="356.85" y="650.87" font-size="10.2" font-weight="bold" textLength="5.56" lengthAdjust="spacingAndGlyphs" fill="#111" stroke="#111" stroke-width="0.3" >8</text>
<line x1="412.20" y1="786.30" x2="412.20" y2="792.10" stroke="#111" stroke-width="1.9" />
<line x1="471.80" y1="786.30" x2="471.80" y2="792.10" stroke="#111" stroke-width="1.9" />
<line x1="411.80" y1="704.00" x2="471.60" y2="731.50" stroke="#888" stroke-width="1.25" />
<line x1="411.80" y1="721.60" x2="471.60" y2="713.70" stroke="#888" stroke-width="1.25" />
<line x1="411.80" y1="739.20" x2="471.60" y2="761.40" stroke="#888" stroke-width="1.25" />
<line x1="411.80" y1="765.00" x2="471.60" y2="755.10" stroke="#888" stroke-width="1.25" />
<line x1="411.80" y1="774.00" x2="471.60" y2="772.00" stroke="#888" stroke-width="1.25" />
<line x1="411.80" y1="776.00" x2="471.60" y2="780.00" stroke="#888" stroke-width="1.25" />
<line x1="411.80" y1="778.00" x2="471.60" y2="776.00" stroke="#888" stroke-width="1.25" />
<line x1="411.80" y1="780.00" x2="471.60" y2="783.00" stroke="#888" stroke-width="1.25" />
<line x1="411.80" y1="781.50" x2="471.60" y2="778.00" stroke="#888" stroke-width="1.25" />
<line x1="411.80" y1="783.00" x2="471.60" y2="784.00" stroke="#888" stroke-width="1.25" />
<line x1="411.80" y1="784.00" x2="471.60" y2="782.00" stroke="#888" stroke-width="1.25" />
<path d="M394.50,786.30 V763.50 H431.30 V786.30" fill="none" stroke="#111" stroke-width="3.3" stroke-linejoin="miter"/>
<path d="M453.10,786.30 V767.60 H490.60 V786.30" fill="none" stroke="#5529a3" stroke-width="3.3" stroke-linejoin="miter"/>
<circle cx="411.80" cy="704.00" r="2.75" fill="#777777"/>
<circle cx="471.60" cy="731.50" r="2.75" fill="#777777"/>
<circle cx="411.80" cy="721.60" r="2.75" fill="#777777"/>
<circle cx="471.60" cy="713.70" r="2.75" fill="#777777"/>
<circle cx="411.80" cy="739.20" r="2.75" fill="#777777"/>
<circle cx="471.60" cy="761.40" r="2.75" fill="#777777"/>
<circle cx="411.80" cy="765.00" r="2.75" fill="#777777"/>
<circle cx="471.60" cy="755.10" r="2.75" fill="#777777"/>
<circle cx="411.80" cy="774.00" r="2.75" fill="#777777"/>
<circle cx="471.60" cy="772.00" r="2.75" fill="#777777"/>
<circle cx="411.80" cy="776.00" r="2.75" fill="#777777"/>
<circle cx="471.60" cy="780.00" r="2.75" fill="#777777"/>
<circle cx="411.80" cy="778.00" r="2.75" fill="#777777"/>
<circle cx="471.60" cy="776.00" r="2.75" fill="#777777"/>
<circle cx="411.80" cy="780.00" r="2.75" fill="#777777"/>
<circle cx="471.60" cy="783.00" r="2.75" fill="#777777"/>
<circle cx="411.80" cy="781.50" r="2.75" fill="#777777"/>
<circle cx="471.60" cy="778.00" r="2.75" fill="#777777"/>
<circle cx="411.80" cy="783.00" r="2.75" fill="#777777"/>
<circle cx="471.60" cy="784.00" r="2.75" fill="#777777"/>
<circle cx="411.80" cy="784.00" r="2.75" fill="#777777"/>
<circle cx="471.60" cy="782.00" r="2.75" fill="#777777"/>
<line x1="411.80" y1="754.10" x2="411.80" y2="770.90" stroke="#111" stroke-width="1.8" />
<line x1="401.30" y1="754.10" x2="422.30" y2="754.10" stroke="#111" stroke-width="1.8" />
<line x1="401.30" y1="770.90" x2="422.30" y2="770.90" stroke="#111" stroke-width="1.8" />
<line x1="471.60" y1="758.90" x2="471.60" y2="773.50" stroke="#5529a3" stroke-width="1.8" />
<line x1="461.20" y1="758.90" x2="482.00" y2="758.90" stroke="#5529a3" stroke-width="1.8" />
<line x1="461.20" y1="773.50" x2="482.00" y2="773.50" stroke="#5529a3" stroke-width="1.8" />
<text x="379.33" y="804.40" font-size="10.4" font-weight="bold" textLength="42.78" lengthAdjust="spacingAndGlyphs" fill="#1a1a1a" stroke="#1a1a1a" stroke-width="0.3" >M100907</text>
<text x="381.48" y="815.60" font-size="10.4" font-weight="bold" textLength="39.22" lengthAdjust="spacingAndGlyphs" fill="#1a1a1a" stroke="#1a1a1a" stroke-width="0.3" >(200nM)</text>
<text x="436.31" y="804.40" font-size="10.4" font-weight="bold" textLength="95.99" lengthAdjust="spacingAndGlyphs" fill="#1a1a1a" stroke="#1a1a1a" stroke-width="0.3" >M100907 (200nM) +</text>
<text x="430.12" y="815.60" font-size="10.4" font-weight="bold" textLength="108.70" lengthAdjust="spacingAndGlyphs" fill="#1a1a1a" stroke="#1a1a1a" stroke-width="0.3" >NBOH-2C-CN (200nM)</text>
<g transform="translate(343.20,768.50) rotate(-90)"><text x="-0.66" y="0" font-size="11.2" font-weight="bold" textLength="103.95" lengthAdjust="spacingAndGlyphs" fill="#1a1a1a" stroke="#1a1a1a" stroke-width="0.3">Firing Frequency (Hz)</text></g>
<line x1="584.40" y1="647.20" x2="584.40" y2="787.10" stroke="#111" stroke-width="1.8" />
<line x1="583.50" y1="786.20" x2="676.90" y2="786.20" stroke="#111" stroke-width="1.8" />
<line x1="579.20" y1="786.20" x2="584.40" y2="786.20" stroke="#111" stroke-width="1.6" />
<text x="567.25" y="789.77" font-size="10.2" font-weight="bold" textLength="5.56" lengthAdjust="spacingAndGlyphs" fill="#111" stroke="#111" stroke-width="0.3" >0</text>
<line x1="579.20" y1="758.58" x2="584.40" y2="758.58" stroke="#111" stroke-width="1.6" />
<text x="561.70" y="762.15" font-size="10.2" font-weight="bold" textLength="11.12" lengthAdjust="spacingAndGlyphs" fill="#111" stroke="#111" stroke-width="0.3" >50</text>
<line x1="579.20" y1="730.96" x2="584.40" y2="730.96" stroke="#111" stroke-width="1.6" />
<text x="556.15" y="734.53" font-size="10.2" font-weight="bold" textLength="16.69" lengthAdjust="spacingAndGlyphs" fill="#111" stroke="#111" stroke-width="0.3" >100</text>
<line x1="579.20" y1="703.34" x2="584.40" y2="703.34" stroke="#111" stroke-width="1.6" />
<text x="556.15" y="706.91" font-size="10.2" font-weight="bold" textLength="16.69" lengthAdjust="spacingAndGlyphs" fill="#111" stroke="#111" stroke-width="0.3" >150</text>
<line x1="579.20" y1="675.72" x2="584.40" y2="675.72" stroke="#111" stroke-width="1.6" />
<text x="556.15" y="679.29" font-size="10.2" font-weight="bold" textLength="16.69" lengthAdjust="spacingAndGlyphs" fill="#111" stroke="#111" stroke-width="0.3" >200</text>
<line x1="579.20" y1="648.10" x2="584.40" y2="648.10" stroke="#111" stroke-width="1.6" />
<text x="556.15" y="651.67" font-size="10.2" font-weight="bold" textLength="16.69" lengthAdjust="spacingAndGlyphs" fill="#111" stroke="#111" stroke-width="0.3" >250</text>
<path d="M609.00,786.20 V738.80 H653.30 V786.20" fill="#fff" stroke="#111" stroke-width="3.3" stroke-linejoin="miter"/>
<line x1="587.40" y1="730.96" x2="675.90" y2="730.96" stroke="#111" stroke-width="1.8" stroke-dasharray="1.8 3.3"/>
<line x1="630.80" y1="786.20" x2="630.80" y2="792.00" stroke="#111" stroke-width="1.9" />
<circle cx="630.80" cy="705.80" r="2.9" fill="#111"/>
<circle cx="625.30" cy="712.90" r="2.9" fill="#111"/>
<circle cx="636.50" cy="715.50" r="2.9" fill="#111"/>
<circle cx="625.30" cy="719.30" r="2.9" fill="#111"/>
<circle cx="636.50" cy="724.40" r="2.9" fill="#111"/>
<circle cx="630.80" cy="749.70" r="2.9" fill="#111"/>
<circle cx="625.40" cy="757.80" r="2.9" fill="#111"/>
<circle cx="636.60" cy="756.10" r="2.9" fill="#111"/>
<circle cx="636.60" cy="765.50" r="2.9" fill="#111"/>
<circle cx="625.40" cy="769.20" r="2.9" fill="#111"/>
<line x1="630.80" y1="730.00" x2="630.80" y2="745.60" stroke="#111" stroke-width="1.8" />
<line x1="618.70" y1="730.00" x2="642.90" y2="730.00" stroke="#111" stroke-width="1.8" />
<line x1="618.70" y1="745.60" x2="642.90" y2="745.60" stroke="#111" stroke-width="1.8" />
<text x="584.13" y="803.70" font-size="10.4" font-weight="bold" textLength="93.66" lengthAdjust="spacingAndGlyphs" fill="#1a1a1a" stroke="#1a1a1a" stroke-width="0.3" >M100907 (200nM) +</text>
<text x="577.43" y="815.20" font-size="10.4" font-weight="bold" textLength="107.59" lengthAdjust="spacingAndGlyphs" fill="#1a1a1a" stroke="#1a1a1a" stroke-width="0.3" >NBOH-2C-CN (200nM)</text>
<g transform="translate(543.40,786.30) rotate(-90)"><text x="-0.65" y="0" font-size="11.2" font-weight="bold" textLength="141.34" lengthAdjust="spacingAndGlyphs" fill="#1a1a1a" stroke="#1a1a1a" stroke-width="0.3">Firing Frequency (%Baseline)</text></g>
<line x1="369.90" y1="168.00" x2="507.50" y2="168.00" stroke="#111" stroke-width="1.8" />
<line x1="581.60" y1="168.30" x2="673.80" y2="168.30" stroke="#111" stroke-width="1.8" />
<line x1="369.20" y1="370.40" x2="506.70" y2="370.40" stroke="#111" stroke-width="1.8" />
<line x1="582.30" y1="370.00" x2="674.70" y2="370.00" stroke="#111" stroke-width="1.8" />
<line x1="371.40" y1="593.70" x2="511.70" y2="593.70" stroke="#111" stroke-width="1.8" />
<line x1="583.40" y1="593.80" x2="676.30" y2="593.80" stroke="#111" stroke-width="1.8" />
<line x1="371.40" y1="786.30" x2="511.70" y2="786.30" stroke="#111" stroke-width="1.8" />
<line x1="583.50" y1="786.20" x2="676.90" y2="786.20" stroke="#111" stroke-width="1.8" />
</svg>
</body></html>
